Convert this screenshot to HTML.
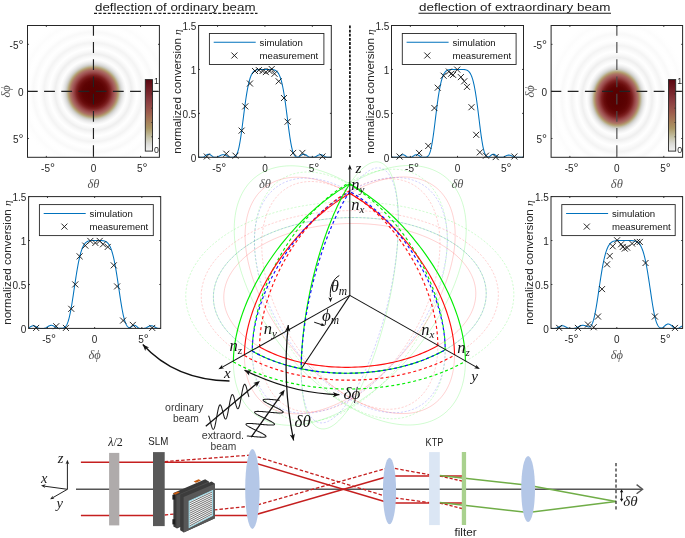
<!DOCTYPE html>
<html><head><meta charset="utf-8"><style>
html,body{margin:0;padding:0;background:#fff;width:685px;height:538px;overflow:hidden}
svg{display:block;will-change:transform}
</style></head><body>
<svg width="685" height="538" viewBox="0 0 685 538">
<defs><radialGradient id="rg1" gradientUnits="userSpaceOnUse" cx="0" cy="0" r="100.0" gradientTransform="translate(93.35,92.2) scale(1.02,1.02)"><stop offset="0.0000" stop-color="#560000"/><stop offset="0.0700" stop-color="#580101"/><stop offset="0.1100" stop-color="#5d0303"/><stop offset="0.1400" stop-color="#690c0c"/><stop offset="0.1650" stop-color="#7c2020"/><stop offset="0.1900" stop-color="#964444"/><stop offset="0.2100" stop-color="#a55e5c"/><stop offset="0.2260" stop-color="#ac7664"/><stop offset="0.2380" stop-color="#b2926a"/><stop offset="0.2480" stop-color="#b8aa80"/><stop offset="0.2600" stop-color="#c6c2b2"/><stop offset="0.2730" stop-color="#d6d6d4"/><stop offset="0.2860" stop-color="#e4e4e4"/><stop offset="0.3050" stop-color="#f4f4f4"/><stop offset="0.3250" stop-color="#fefefe"/><stop offset="0.3500" stop-color="#f8f8f8"/><stop offset="0.3750" stop-color="#efefef"/><stop offset="0.4050" stop-color="#f9f9f9"/><stop offset="0.4300" stop-color="#ffffff"/><stop offset="0.4600" stop-color="#f9f9f9"/><stop offset="0.4850" stop-color="#f4f4f4"/><stop offset="0.5150" stop-color="#fcfcfc"/><stop offset="0.5400" stop-color="#ffffff"/><stop offset="0.5650" stop-color="#fcfcfc"/><stop offset="0.5900" stop-color="#f9f9f9"/><stop offset="0.6200" stop-color="#fefefe"/><stop offset="0.6450" stop-color="#ffffff"/><stop offset="0.6700" stop-color="#fefefe"/><stop offset="0.6950" stop-color="#fcfcfc"/><stop offset="0.7250" stop-color="#fefefe"/><stop offset="0.7600" stop-color="#ffffff"/><stop offset="1.0000" stop-color="#ffffff"/></radialGradient><linearGradient id="cb1" x1="0" y1="0" x2="0" y2="1"><stop offset="0" stop-color="#5a0610"/><stop offset="0.12" stop-color="#6e1a22"/><stop offset="0.3" stop-color="#8a3c40"/><stop offset="0.45" stop-color="#9c5a4c"/><stop offset="0.58" stop-color="#a67c58"/><stop offset="0.68" stop-color="#aa9664"/><stop offset="0.8" stop-color="#c4c0a4"/><stop offset="0.9" stop-color="#dcdcd8"/><stop offset="1" stop-color="#f2f2f2"/></linearGradient><radialGradient id="rg4" gradientUnits="userSpaceOnUse" cx="0" cy="0" r="100.0" gradientTransform="translate(617,98.7) scale(0.935,1.1)"><stop offset="0.0000" stop-color="#560000"/><stop offset="0.0700" stop-color="#580101"/><stop offset="0.1100" stop-color="#5d0303"/><stop offset="0.1400" stop-color="#690c0c"/><stop offset="0.1650" stop-color="#7c2020"/><stop offset="0.1900" stop-color="#964444"/><stop offset="0.2100" stop-color="#a55e5c"/><stop offset="0.2260" stop-color="#ac7664"/><stop offset="0.2380" stop-color="#b2926a"/><stop offset="0.2480" stop-color="#b8aa80"/><stop offset="0.2600" stop-color="#c6c2b2"/><stop offset="0.2730" stop-color="#d6d6d4"/><stop offset="0.2860" stop-color="#e4e4e4"/><stop offset="0.3050" stop-color="#f4f4f4"/><stop offset="0.3250" stop-color="#fefefe"/><stop offset="0.3500" stop-color="#f8f8f8"/><stop offset="0.3750" stop-color="#efefef"/><stop offset="0.4050" stop-color="#f9f9f9"/><stop offset="0.4300" stop-color="#ffffff"/><stop offset="0.4600" stop-color="#f9f9f9"/><stop offset="0.4850" stop-color="#f4f4f4"/><stop offset="0.5150" stop-color="#fcfcfc"/><stop offset="0.5400" stop-color="#ffffff"/><stop offset="0.5650" stop-color="#fcfcfc"/><stop offset="0.5900" stop-color="#f9f9f9"/><stop offset="0.6200" stop-color="#fefefe"/><stop offset="0.6450" stop-color="#ffffff"/><stop offset="0.6700" stop-color="#fefefe"/><stop offset="0.6950" stop-color="#fcfcfc"/><stop offset="0.7250" stop-color="#fefefe"/><stop offset="0.7600" stop-color="#ffffff"/><stop offset="1.0000" stop-color="#ffffff"/></radialGradient><linearGradient id="cb4" x1="0" y1="0" x2="0" y2="1"><stop offset="0" stop-color="#5a0610"/><stop offset="0.12" stop-color="#6e1a22"/><stop offset="0.3" stop-color="#8a3c40"/><stop offset="0.45" stop-color="#9c5a4c"/><stop offset="0.58" stop-color="#a67c58"/><stop offset="0.68" stop-color="#aa9664"/><stop offset="0.8" stop-color="#c4c0a4"/><stop offset="0.9" stop-color="#dcdcd8"/><stop offset="1" stop-color="#f2f2f2"/></linearGradient><clipPath id="cp2"><rect x="198.6" y="24.5" width="132.7" height="133.3"/></clipPath><clipPath id="cp3"><rect x="391.5" y="24.5" width="132" height="133.3"/></clipPath><clipPath id="cp5"><rect x="28.6" y="195.6" width="132.1" height="133.3"/></clipPath><clipPath id="cp6"><rect x="551" y="195.6" width="131.6" height="133.3"/></clipPath></defs>
<rect width="685" height="538" fill="#fff"/>
<text x="95" y="10.5" text-anchor="start" fill="#1a1a1a" style='font-family:"Liberation Sans",sans-serif;font-size:11.8px' textLength="160.5" lengthAdjust="spacingAndGlyphs">deflection of ordinary beam</text>
<line x1="94" y1="13.4" x2="257.5" y2="13.4" stroke="#1a1a1a" stroke-width="1.25" stroke-dasharray="3 1.6"/>
<text x="419" y="10.5" text-anchor="start" fill="#1a1a1a" style='font-family:"Liberation Sans",sans-serif;font-size:11.8px' textLength="191.5" lengthAdjust="spacingAndGlyphs">deflection of extraordinary beam</text>
<line x1="418.5" y1="13.2" x2="611" y2="13.2" stroke="#1a1a1a" stroke-width="1.15"/>
<line x1="349.9" y1="25.5" x2="349.9" y2="157" stroke="#1a1a1a" stroke-width="1.8" stroke-dasharray="2.8 1.35"/>
<rect x="27.5" y="25.5" width="131.9" height="131.8" fill="url(#rg1)"/>
<line x1="27.5" y1="91.4" x2="159.4" y2="91.4" stroke="#222" stroke-width="1.15" stroke-dasharray="10.8 6.4" stroke-dashoffset="0.6"/>
<line x1="93.45" y1="25.5" x2="93.45" y2="157.3" stroke="#222" stroke-width="1.15" stroke-dasharray="10.8 6.4" stroke-dashoffset="0.6"/>
<rect x="145.3" y="79.6" width="7.2" height="71.5" fill="url(#cb1)" stroke="#262626" stroke-width="0.9"/>
<line x1="151.3" y1="136.8" x2="152.5" y2="136.8" stroke="#262626" stroke-width="0.8"/>
<line x1="151.3" y1="122.5" x2="152.5" y2="122.5" stroke="#262626" stroke-width="0.8"/>
<line x1="151.3" y1="108.2" x2="152.5" y2="108.2" stroke="#262626" stroke-width="0.8"/>
<line x1="151.3" y1="93.9" x2="152.5" y2="93.9" stroke="#262626" stroke-width="0.8"/>
<text x="154.1" y="83.9" text-anchor="start" fill="#262626" style='font-family:"Liberation Sans",sans-serif;font-size:8.8px' >1</text>
<text x="154.1" y="153.1" text-anchor="start" fill="#262626" style='font-family:"Liberation Sans",sans-serif;font-size:8.8px' >0</text>
<rect x="27.5" y="25.5" width="131.9" height="131.8" fill="none" stroke="#262626" stroke-width="1"/>
<line x1="46.34" y1="157.3" x2="46.34" y2="155.9" stroke="#262626" stroke-width="0.9"/>
<line x1="46.34" y1="25.5" x2="46.34" y2="26.9" stroke="#262626" stroke-width="0.9"/>
<line x1="27.5" y1="44.33" x2="28.9" y2="44.33" stroke="#262626" stroke-width="0.9"/>
<line x1="159.4" y1="44.33" x2="158" y2="44.33" stroke="#262626" stroke-width="0.9"/>
<text x="48.04" y="171.6" text-anchor="middle" fill="#262626" style='font-family:"Liberation Sans",sans-serif;font-size:10px' >-5<tspan style="font-size:12.5px">°</tspan></text>
<text x="23.5" y="48.53" text-anchor="end" fill="#262626" style='font-family:"Liberation Sans",sans-serif;font-size:10px' >-5<tspan style="font-size:12.5px">°</tspan></text>
<line x1="93.45" y1="157.3" x2="93.45" y2="155.9" stroke="#262626" stroke-width="0.9"/>
<line x1="93.45" y1="25.5" x2="93.45" y2="26.9" stroke="#262626" stroke-width="0.9"/>
<line x1="27.5" y1="91.4" x2="28.9" y2="91.4" stroke="#262626" stroke-width="0.9"/>
<line x1="159.4" y1="91.4" x2="158" y2="91.4" stroke="#262626" stroke-width="0.9"/>
<text x="93.45" y="171.6" text-anchor="middle" fill="#262626" style='font-family:"Liberation Sans",sans-serif;font-size:10px' >0</text>
<text x="23.5" y="95.6" text-anchor="end" fill="#262626" style='font-family:"Liberation Sans",sans-serif;font-size:10px' >0</text>
<line x1="140.56" y1="157.3" x2="140.56" y2="155.9" stroke="#262626" stroke-width="0.9"/>
<line x1="140.56" y1="25.5" x2="140.56" y2="26.9" stroke="#262626" stroke-width="0.9"/>
<line x1="27.5" y1="138.47" x2="28.9" y2="138.47" stroke="#262626" stroke-width="0.9"/>
<line x1="159.4" y1="138.47" x2="158" y2="138.47" stroke="#262626" stroke-width="0.9"/>
<text x="142.26" y="171.6" text-anchor="middle" fill="#262626" style='font-family:"Liberation Sans",sans-serif;font-size:10px' >5<tspan style="font-size:12.5px">°</tspan></text>
<text x="23.5" y="142.67" text-anchor="end" fill="#262626" style='font-family:"Liberation Sans",sans-serif;font-size:10px' >5<tspan style="font-size:12.5px">°</tspan></text>
<text x="93.45" y="187.9" text-anchor="middle" fill="#555" style='font-family:"Liberation Serif",serif;font-size:12.5px;font-style:italic' >δθ</text>
<text x="0" y="0" transform="translate(10,91.4) rotate(-90)" text-anchor="middle" fill="#555" style='font-family:"Liberation Serif",serif;font-size:12.5px;font-style:italic'>δϕ</text>
<rect x="551.1" y="25.5" width="131.5" height="131.8" fill="url(#rg4)"/>
<line x1="551.1" y1="91.4" x2="682.6" y2="91.4" stroke="#222" stroke-width="1.15" stroke-dasharray="10.8 6.4" stroke-dashoffset="0.6"/>
<line x1="616.85" y1="25.5" x2="616.85" y2="157.3" stroke="#4a4a4a" stroke-width="1.15" stroke-dasharray="10.8 6.4" stroke-dashoffset="0.6"/>
<rect x="668.5" y="79.6" width="7.2" height="71.5" fill="url(#cb4)" stroke="#262626" stroke-width="0.9"/>
<line x1="674.5" y1="136.8" x2="675.7" y2="136.8" stroke="#262626" stroke-width="0.8"/>
<line x1="674.5" y1="122.5" x2="675.7" y2="122.5" stroke="#262626" stroke-width="0.8"/>
<line x1="674.5" y1="108.2" x2="675.7" y2="108.2" stroke="#262626" stroke-width="0.8"/>
<line x1="674.5" y1="93.9" x2="675.7" y2="93.9" stroke="#262626" stroke-width="0.8"/>
<text x="677.3" y="83.9" text-anchor="start" fill="#262626" style='font-family:"Liberation Sans",sans-serif;font-size:8.8px' >1</text>
<text x="677.3" y="153.1" text-anchor="start" fill="#262626" style='font-family:"Liberation Sans",sans-serif;font-size:8.8px' >0</text>
<rect x="551.1" y="25.5" width="131.5" height="131.8" fill="none" stroke="#262626" stroke-width="1"/>
<line x1="569.89" y1="157.3" x2="569.89" y2="155.9" stroke="#262626" stroke-width="0.9"/>
<line x1="569.89" y1="25.5" x2="569.89" y2="26.9" stroke="#262626" stroke-width="0.9"/>
<line x1="551.1" y1="44.33" x2="552.5" y2="44.33" stroke="#262626" stroke-width="0.9"/>
<line x1="682.6" y1="44.33" x2="681.2" y2="44.33" stroke="#262626" stroke-width="0.9"/>
<text x="571.59" y="171.6" text-anchor="middle" fill="#262626" style='font-family:"Liberation Sans",sans-serif;font-size:10px' >-5<tspan style="font-size:12.5px">°</tspan></text>
<text x="547.1" y="48.53" text-anchor="end" fill="#262626" style='font-family:"Liberation Sans",sans-serif;font-size:10px' >-5<tspan style="font-size:12.5px">°</tspan></text>
<line x1="616.85" y1="157.3" x2="616.85" y2="155.9" stroke="#262626" stroke-width="0.9"/>
<line x1="616.85" y1="25.5" x2="616.85" y2="26.9" stroke="#262626" stroke-width="0.9"/>
<line x1="551.1" y1="91.4" x2="552.5" y2="91.4" stroke="#262626" stroke-width="0.9"/>
<line x1="682.6" y1="91.4" x2="681.2" y2="91.4" stroke="#262626" stroke-width="0.9"/>
<text x="616.85" y="171.6" text-anchor="middle" fill="#262626" style='font-family:"Liberation Sans",sans-serif;font-size:10px' >0</text>
<text x="547.1" y="95.6" text-anchor="end" fill="#262626" style='font-family:"Liberation Sans",sans-serif;font-size:10px' >0</text>
<line x1="663.81" y1="157.3" x2="663.81" y2="155.9" stroke="#262626" stroke-width="0.9"/>
<line x1="663.81" y1="25.5" x2="663.81" y2="26.9" stroke="#262626" stroke-width="0.9"/>
<line x1="551.1" y1="138.47" x2="552.5" y2="138.47" stroke="#262626" stroke-width="0.9"/>
<line x1="682.6" y1="138.47" x2="681.2" y2="138.47" stroke="#262626" stroke-width="0.9"/>
<text x="665.51" y="171.6" text-anchor="middle" fill="#262626" style='font-family:"Liberation Sans",sans-serif;font-size:10px' >5<tspan style="font-size:12.5px">°</tspan></text>
<text x="547.1" y="142.67" text-anchor="end" fill="#262626" style='font-family:"Liberation Sans",sans-serif;font-size:10px' >5<tspan style="font-size:12.5px">°</tspan></text>
<text x="616.85" y="187.9" text-anchor="middle" fill="#555" style='font-family:"Liberation Serif",serif;font-size:12.5px;font-style:italic' >δθ</text>
<text x="0" y="0" transform="translate(533.6,91.4) rotate(-90)" text-anchor="middle" fill="#555" style='font-family:"Liberation Serif",serif;font-size:12.5px;font-style:italic'>δϕ</text>
<path d="M198.6,157.3L198.93,157.3 199.26,157.3 199.6,157.3 199.93,157.3 200.26,157.3 200.59,157.3 200.92,157.3 201.25,157.3 201.59,157.3 201.92,157.3 202.25,157.3 202.58,157.29 202.91,157.25 203.24,157.16 203.58,157.03 203.91,156.86 204.24,156.67 204.57,156.44 204.9,156.2 205.23,155.95 205.57,155.69 205.9,155.43 206.23,155.18 206.56,154.95 206.89,154.74 207.23,154.56 207.56,154.42 207.89,154.31 208.22,154.25 208.55,154.22 208.88,154.25 209.22,154.31 209.55,154.42 209.88,154.56 210.21,154.74 210.54,154.95 210.87,155.18 211.21,155.43 211.54,155.69 211.87,155.95 212.2,156.2 212.53,156.44 212.87,156.67 213.2,156.86 213.53,157.03 213.86,157.16 214.19,157.25 214.52,157.29 214.86,157.3 215.19,157.3 215.52,157.3 215.85,157.3 216.18,157.27 216.51,157.22 216.85,157.14 217.18,157.05 217.51,156.93 217.84,156.8 218.17,156.65 218.5,156.49 218.84,156.31 219.17,156.14 219.5,155.96 219.83,155.78 220.16,155.6 220.5,155.43 220.83,155.27 221.16,155.13 221.49,155 221.82,154.89 222.15,154.8 222.49,154.73 222.82,154.68 223.15,154.67 223.48,154.67 223.81,154.7 224.14,154.75 224.48,154.83 224.81,154.93 225.14,155.05 225.47,155.19 225.8,155.34 226.14,155.5 226.47,155.67 226.8,155.85 227.13,156.03 227.46,156.21 227.79,156.39 228.13,156.56 228.46,156.71 228.79,156.86 229.12,156.98 229.45,157.09 229.78,157.18 230.12,157.24 230.45,157.28 230.78,157.29 231.11,157.29 231.44,157.28 231.77,157.28 232.11,157.26 232.44,157.24 232.77,157.21 233.1,157.17 233.43,157.12 233.77,157.05 234.1,156.95 234.43,156.81 234.76,156.65 235.09,156.43 235.42,156.16 235.76,155.82 236.09,155.41 236.42,154.91 236.75,154.32 237.08,153.62 237.41,152.81 237.75,151.87 238.08,150.8 238.41,149.6 238.74,148.26 239.07,146.78 239.41,145.16 239.74,143.4 240.07,141.51 240.4,139.49 240.73,137.35 241.06,135.1 241.4,132.76 241.73,130.33 242.06,127.84 242.39,125.29 242.72,122.7 243.05,120.09 243.39,117.47 243.72,114.85 244.05,112.26 244.38,109.7 244.71,107.18 245.04,104.72 245.38,102.32 245.71,100.01 246.04,97.77 246.37,95.62 246.7,93.57 247.04,91.61 247.37,89.76 247.7,88 248.03,86.35 248.36,84.8 248.69,83.35 249.03,82 249.36,80.75 249.69,79.59 250.02,78.52 250.35,77.54 250.68,76.64 251.02,75.82 251.35,75.07 251.68,74.39 252.01,73.78 252.34,73.23 252.68,72.74 253.01,72.29 253.34,71.9 253.67,71.55 254,71.24 254.33,70.97 254.67,70.74 255,70.53 255.33,70.35 255.66,70.2 255.99,70.06 256.32,69.95 256.66,69.85 256.99,69.77 257.32,69.71 257.65,69.65 257.98,69.6 258.31,69.56 258.65,69.53 258.98,69.51 259.31,69.49 259.64,69.47 259.97,69.46 260.31,69.45 260.64,69.45 260.97,69.44 261.3,69.44 261.63,69.44 261.96,69.44 262.3,69.43 262.63,69.43 262.96,69.43 263.29,69.43 263.62,69.43 263.95,69.43 264.29,69.43 264.62,69.43 264.95,69.43 265.28,69.43 265.61,69.43 265.95,69.43 266.28,69.43 266.61,69.43 266.94,69.43 267.27,69.43 267.6,69.43 267.94,69.43 268.27,69.43 268.6,69.44 268.93,69.44 269.26,69.44 269.59,69.44 269.93,69.45 270.26,69.45 270.59,69.46 270.92,69.47 271.25,69.49 271.58,69.5 271.92,69.53 272.25,69.55 272.58,69.59 272.91,69.63 273.24,69.69 273.58,69.75 273.91,69.83 274.24,69.92 274.57,70.03 274.9,70.16 275.23,70.3 275.57,70.48 275.9,70.67 276.23,70.9 276.56,71.16 276.89,71.46 277.22,71.8 277.56,72.18 277.89,72.6 278.22,73.08 278.55,73.62 278.88,74.21 279.22,74.87 279.55,75.6 279.88,76.4 280.21,77.27 280.54,78.23 280.87,79.28 281.21,80.41 281.54,81.64 281.87,82.96 282.2,84.38 282.53,85.9 282.86,87.52 283.2,89.25 283.53,91.07 283.86,93 284.19,95.03 284.52,97.15 284.85,99.36 285.19,101.65 285.52,104.03 285.85,106.47 286.18,108.97 286.51,111.52 286.85,114.11 287.18,116.72 287.51,119.34 287.84,121.96 288.17,124.55 288.5,127.11 288.84,129.63 289.17,132.07 289.5,134.44 289.83,136.72 290.16,138.89 290.49,140.94 290.83,142.87 291.16,144.67 291.49,146.33 291.82,147.85 292.15,149.23 292.49,150.47 292.82,151.58 293.15,152.55 293.48,153.4 293.81,154.13 294.14,154.75 294.48,155.28 294.81,155.71 295.14,156.07 295.47,156.36 295.8,156.59 296.13,156.77 296.47,156.91 296.8,157.02 297.13,157.1 297.46,157.15 297.79,157.14 298.12,157.08 298.46,156.98 298.79,156.85 299.12,156.68 299.45,156.48 299.78,156.26 300.12,156.03 300.45,155.79 300.78,155.55 301.11,155.32 301.44,155.09 301.77,154.89 302.11,154.7 302.44,154.54 302.77,154.41 303.1,154.31 303.43,154.25 303.76,154.23 304.1,154.24 304.43,154.29 304.76,154.38 305.09,154.5 305.42,154.65 305.76,154.83 306.09,155.03 306.42,155.25 306.75,155.49 307.08,155.73 307.41,155.97 307.75,156.2 308.08,156.43 308.41,156.64 308.74,156.82 309.07,156.99 309.4,157.12 309.74,157.21 310.07,157.28 310.4,157.3 310.73,157.3 311.06,157.3 311.39,157.3 311.73,157.3 312.06,157.3 312.39,157.3 312.72,157.3 313.05,157.3 313.39,157.3 313.72,157.28 314.05,157.23 314.38,157.15 314.71,157.05 315.04,156.92 315.38,156.78 315.71,156.62 316.04,156.44 316.37,156.26 316.7,156.06 317.03,155.87 317.37,155.68 317.7,155.5 318.03,155.32 318.36,155.16 318.69,155.02 319.03,154.9 319.36,154.8 319.69,154.73 320.02,154.68 320.35,154.66 320.68,154.67 321.02,154.71 321.35,154.78 321.68,154.87 322.01,154.98 322.34,155.12 322.67,155.28 323.01,155.45 323.34,155.63 323.67,155.82 324,156.01 324.33,156.2 324.67,156.39 325,156.57 325.33,156.73 325.66,156.88 325.99,157.01 326.32,157.12 326.66,157.21 326.99,157.27 327.32,157.3 327.65,157.3 327.98,157.3 328.31,157.3 328.65,157.3 328.98,157.3 329.31,157.3 329.64,157.3 329.97,157.3 330.3,157.3 330.64,157.3 330.97,157.3 331.3,157.3" fill="none" stroke="#0072bd" stroke-width="1.05" clip-path="url(#cp2)"/>
<path d="M203.79,153.53L209.79,159.53M203.79,159.53L209.79,153.53" stroke="#111" stroke-width="0.9" fill="none"/>
<path d="M223.3,150.74L229.3,156.74M223.3,156.74L229.3,150.74" stroke="#111" stroke-width="0.9" fill="none"/>
<path d="M232.49,152.69L238.49,158.69M232.49,158.69L238.49,152.69" stroke="#111" stroke-width="0.9" fill="none"/>
<path d="M238.62,127.62L244.62,133.62M238.62,133.62L244.62,127.62" stroke="#111" stroke-width="0.9" fill="none"/>
<path d="M242.25,103.38L248.25,109.38M242.25,109.38L248.25,103.38" stroke="#111" stroke-width="0.9" fill="none"/>
<path d="M246.98,80.53L252.98,86.53M246.98,86.53L252.98,80.53" stroke="#111" stroke-width="0.9" fill="none"/>
<path d="M252,67.99L258,73.99M252,73.99L258,67.99" stroke="#111" stroke-width="0.9" fill="none"/>
<path d="M255.9,67.15L261.9,73.15M255.9,73.15L261.9,67.15" stroke="#111" stroke-width="0.9" fill="none"/>
<path d="M259.52,67.99L265.52,73.99M259.52,73.99L265.52,67.99" stroke="#111" stroke-width="0.9" fill="none"/>
<path d="M262.86,69.1L268.86,75.1M262.86,75.1L268.86,69.1" stroke="#111" stroke-width="0.9" fill="none"/>
<path d="M266.49,67.99L272.49,73.99M266.49,73.99L272.49,67.99" stroke="#111" stroke-width="0.9" fill="none"/>
<path d="M268.71,66.04L274.71,72.04M268.71,72.04L274.71,66.04" stroke="#111" stroke-width="0.9" fill="none"/>
<path d="M271.5,70.78L277.5,76.78M271.5,76.78L277.5,70.78" stroke="#111" stroke-width="0.9" fill="none"/>
<path d="M275.68,78.3L281.68,84.3M275.68,84.3L281.68,78.3" stroke="#111" stroke-width="0.9" fill="none"/>
<path d="M280.97,95.02L286.97,101.02M280.97,101.02L286.97,95.02" stroke="#111" stroke-width="0.9" fill="none"/>
<path d="M284.6,118.7L290.6,124.7M284.6,124.7L290.6,118.7" stroke="#111" stroke-width="0.9" fill="none"/>
<path d="M290.17,149.91L296.17,155.91M290.17,155.91L296.17,149.91" stroke="#111" stroke-width="0.9" fill="none"/>
<path d="M299.36,149.91L305.36,155.91M299.36,155.91L305.36,149.91" stroke="#111" stroke-width="0.9" fill="none"/>
<path d="M319.43,153.53L325.43,159.53M319.43,159.53L325.43,153.53" stroke="#111" stroke-width="0.9" fill="none"/>
<rect x="198.6" y="25.5" width="132.7" height="131.8" fill="none" stroke="#262626" stroke-width="1"/>
<line x1="217.56" y1="157.3" x2="217.56" y2="155.9" stroke="#262626" stroke-width="0.9"/>
<line x1="217.56" y1="25.5" x2="217.56" y2="26.9" stroke="#262626" stroke-width="0.9"/>
<text x="219.26" y="171.6" text-anchor="middle" fill="#262626" style='font-family:"Liberation Sans",sans-serif;font-size:10px' >-5<tspan style="font-size:12.5px">°</tspan></text>
<line x1="264.95" y1="157.3" x2="264.95" y2="155.9" stroke="#262626" stroke-width="0.9"/>
<line x1="264.95" y1="25.5" x2="264.95" y2="26.9" stroke="#262626" stroke-width="0.9"/>
<text x="264.95" y="171.6" text-anchor="middle" fill="#262626" style='font-family:"Liberation Sans",sans-serif;font-size:10px' >0</text>
<line x1="312.34" y1="157.3" x2="312.34" y2="155.9" stroke="#262626" stroke-width="0.9"/>
<line x1="312.34" y1="25.5" x2="312.34" y2="26.9" stroke="#262626" stroke-width="0.9"/>
<text x="314.04" y="171.6" text-anchor="middle" fill="#262626" style='font-family:"Liberation Sans",sans-serif;font-size:10px' >5<tspan style="font-size:12.5px">°</tspan></text>
<line x1="198.6" y1="157.3" x2="200" y2="157.3" stroke="#262626" stroke-width="0.9"/>
<line x1="331.3" y1="157.3" x2="329.9" y2="157.3" stroke="#262626" stroke-width="0.9"/>
<text x="196.4" y="161.5" text-anchor="end" fill="#262626" style='font-family:"Liberation Sans",sans-serif;font-size:10px' >0</text>
<line x1="198.6" y1="113.37" x2="200" y2="113.37" stroke="#262626" stroke-width="0.9"/>
<line x1="331.3" y1="113.37" x2="329.9" y2="113.37" stroke="#262626" stroke-width="0.9"/>
<text x="196.4" y="117.57" text-anchor="end" fill="#262626" style='font-family:"Liberation Sans",sans-serif;font-size:10px' >0.5</text>
<line x1="198.6" y1="69.43" x2="200" y2="69.43" stroke="#262626" stroke-width="0.9"/>
<line x1="331.3" y1="69.43" x2="329.9" y2="69.43" stroke="#262626" stroke-width="0.9"/>
<text x="196.4" y="73.63" text-anchor="end" fill="#262626" style='font-family:"Liberation Sans",sans-serif;font-size:10px' >1</text>
<line x1="198.6" y1="25.5" x2="200" y2="25.5" stroke="#262626" stroke-width="0.9"/>
<line x1="331.3" y1="25.5" x2="329.9" y2="25.5" stroke="#262626" stroke-width="0.9"/>
<text x="196.4" y="29.7" text-anchor="end" fill="#262626" style='font-family:"Liberation Sans",sans-serif;font-size:10px' >1.5</text>
<rect x="209.4" y="33.5" width="114.5" height="31" fill="#fff" stroke="#262626" stroke-width="0.9"/>
<line x1="213.7" y1="42.3" x2="255.7" y2="42.3" stroke="#0072bd" stroke-width="1.05"/>
<path d="M231.4,52.5L237.4,58.5M231.4,58.5L237.4,52.5" stroke="#111" stroke-width="0.9" fill="none"/>
<text x="259.6" y="45.8" text-anchor="start" fill="#111" style='font-family:"Liberation Sans",sans-serif;font-size:9.6px' >simulation</text>
<text x="259.6" y="59.1" text-anchor="start" fill="#111" style='font-family:"Liberation Sans",sans-serif;font-size:9.6px' >measurement</text>
<text x="264.95" y="187.9" text-anchor="middle" fill="#555" style='font-family:"Liberation Serif",serif;font-size:12.5px;font-style:italic' >δθ</text>
<text x="0" y="0" transform="translate(181,91.4) rotate(-90)" text-anchor="middle" fill="#262626" textLength="124.5" lengthAdjust="spacingAndGlyphs" style='font-family:"Liberation Sans",sans-serif;font-size:11px'>normalized conversion <tspan style='font-family:"Liberation Serif",serif;font-style:italic'>η</tspan></text>
<path d="M391.5,157.3L391.83,157.3 392.16,157.3 392.49,157.3 392.82,157.3 393.15,157.3 393.48,157.3 393.81,157.3 394.14,157.3 394.47,157.3 394.8,157.3 395.13,157.3 395.46,157.3 395.79,157.3 396.12,157.3 396.45,157.3 396.78,157.3 397.11,157.3 397.44,157.28 397.77,157.22 398.1,157.12 398.43,156.98 398.76,156.81 399.09,156.61 399.42,156.39 399.75,156.15 400.08,155.91 400.41,155.67 400.74,155.45 401.07,155.24 401.4,155.05 401.73,154.9 402.06,154.78 402.39,154.7 402.72,154.67 403.05,154.68 403.38,154.73 403.71,154.82 404.04,154.96 404.37,155.13 404.7,155.32 405.03,155.54 405.36,155.78 405.69,156.02 406.02,156.26 406.35,156.49 406.68,156.7 407.01,156.89 407.34,157.05 407.67,157.17 408,157.26 408.33,157.3 408.66,157.3 408.99,157.3 409.32,157.3 409.65,157.3 409.98,157.3 410.31,157.3 410.64,157.29 410.97,157.24 411.3,157.15 411.63,157.03 411.96,156.88 412.29,156.7 412.62,156.51 412.95,156.3 413.28,156.08 413.61,155.85 413.94,155.64 414.27,155.43 414.6,155.23 414.93,155.06 415.26,154.92 415.59,154.8 415.92,154.72 416.25,154.67 416.58,154.67 416.91,154.7 417.24,154.76 417.57,154.86 417.9,155 418.23,155.16 418.56,155.34 418.89,155.54 419.22,155.76 419.55,155.98 419.88,156.2 420.21,156.42 420.54,156.62 420.87,156.81 421.2,156.97 421.53,157.1 421.86,157.2 422.19,157.27 422.52,157.3 422.85,157.3 423.18,157.3 423.51,157.29 423.84,157.29 424.17,157.28 424.5,157.27 424.83,157.26 425.16,157.23 425.49,157.2 425.82,157.15 426.15,157.09 426.48,157 426.81,156.88 427.14,156.72 427.47,156.52 427.8,156.26 428.13,155.93 428.46,155.53 428.79,155.04 429.12,154.45 429.45,153.75 429.78,152.93 430.11,151.98 430.44,150.89 430.77,149.66 431.1,148.28 431.43,146.76 431.76,145.08 432.09,143.26 432.42,141.29 432.75,139.2 433.08,136.98 433.41,134.65 433.74,132.22 434.07,129.7 434.4,127.12 434.73,124.48 435.06,121.81 435.39,119.12 435.72,116.43 436.05,113.75 436.38,111.1 436.71,108.48 437.04,105.93 437.37,103.44 437.7,101.02 438.03,98.69 438.36,96.45 438.69,94.31 439.02,92.27 439.35,90.34 439.68,88.51 440.01,86.79 440.34,85.18 440.67,83.67 441,82.27 441.33,80.97 441.66,79.77 441.99,78.66 442.32,77.65 442.65,76.72 442.98,75.88 443.31,75.11 443.64,74.42 443.97,73.79 444.3,73.23 444.63,72.73 444.96,72.28 445.29,71.88 445.62,71.53 445.95,71.22 446.28,70.95 446.61,70.71 446.94,70.51 447.27,70.33 447.6,70.17 447.93,70.04 448.26,69.93 448.59,69.84 448.92,69.76 449.25,69.69 449.58,69.64 449.91,69.59 450.24,69.56 450.57,69.53 450.9,69.5 451.23,69.49 451.56,69.47 451.89,69.46 452.22,69.45 452.55,69.45 452.88,69.44 453.21,69.44 453.54,69.44 453.87,69.44 454.2,69.43 454.53,69.43 454.86,69.43 455.19,69.43 455.52,69.43 455.85,69.43 456.18,69.43 456.51,69.43 456.84,69.43 457.17,69.43 457.5,69.43 457.83,69.43 458.16,69.43 458.49,69.43 458.82,69.43 459.15,69.43 459.48,69.43 459.81,69.43 460.14,69.43 460.47,69.44 460.8,69.44 461.13,69.44 461.46,69.44 461.79,69.44 462.12,69.45 462.45,69.46 462.78,69.47 463.11,69.48 463.44,69.5 463.77,69.52 464.1,69.55 464.43,69.58 464.76,69.62 465.09,69.68 465.42,69.74 465.75,69.81 466.08,69.9 466.41,70.01 466.74,70.13 467.07,70.28 467.4,70.45 467.73,70.65 468.06,70.88 468.39,71.14 468.72,71.44 469.05,71.78 469.38,72.16 469.71,72.59 470.04,73.08 470.37,73.62 470.7,74.23 471.03,74.9 471.36,75.65 471.69,76.47 472.02,77.37 472.35,78.36 472.68,79.44 473.01,80.62 473.34,81.89 473.67,83.26 474,84.73 474.33,86.32 474.66,88.01 474.99,89.8 475.32,91.71 475.65,93.72 475.98,95.83 476.31,98.04 476.64,100.35 476.97,102.74 477.3,105.21 477.63,107.75 477.96,110.34 478.29,112.99 478.62,115.66 478.95,118.35 479.28,121.04 479.61,123.72 479.94,126.37 480.27,128.97 480.6,131.51 480.93,133.96 481.26,136.32 481.59,138.58 481.92,140.71 482.25,142.71 482.58,144.57 482.91,146.29 483.24,147.86 483.57,149.28 483.9,150.56 484.23,151.68 484.56,152.67 484.89,153.53 485.22,154.26 485.55,154.88 485.88,155.4 486.21,155.82 486.54,156.17 486.87,156.45 487.2,156.67 487.53,156.84 487.86,156.96 488.19,157 488.52,156.97 488.85,156.87 489.18,156.72 489.51,156.52 489.84,156.28 490.17,156.02 490.5,155.75 490.83,155.47 491.16,155.21 491.49,154.96 491.82,154.73 492.15,154.54 492.48,154.39 492.81,154.29 493.14,154.23 493.47,154.23 493.8,154.28 494.13,154.37 494.46,154.52 494.79,154.7 495.12,154.92 495.45,155.17 495.78,155.44 496.11,155.72 496.44,156 496.77,156.28 497.1,156.53 497.43,156.76 497.76,156.96 498.09,157.11 498.42,157.22 498.75,157.29 499.08,157.3 499.41,157.3 499.74,157.3 500.07,157.3 500.4,157.3 500.73,157.3 501.06,157.3 501.39,157.3 501.72,157.3 502.05,157.29 502.38,157.27 502.71,157.21 503.04,157.14 503.37,157.05 503.7,156.94 504.03,156.81 504.36,156.67 504.69,156.52 505.02,156.36 505.35,156.2 505.68,156.04 506.01,155.88 506.34,155.73 506.67,155.59 507,155.47 507.33,155.36 507.66,155.26 507.99,155.19 508.32,155.14 508.65,155.11 508.98,155.1 509.31,155.12 509.64,155.16 509.97,155.23 510.3,155.31 510.63,155.42 510.96,155.54 511.29,155.67 511.62,155.82 511.95,155.97 512.28,156.13 512.61,156.29 512.94,156.45 513.27,156.61 513.6,156.75 513.93,156.88 514.26,157 514.59,157.1 514.92,157.19 515.25,157.25 515.58,157.28 515.91,157.3 516.24,157.3 516.57,157.3 516.9,157.3 517.23,157.3 517.56,157.3 517.89,157.3 518.22,157.3 518.55,157.3 518.88,157.3 519.21,157.3 519.54,157.3 519.87,157.3 520.2,157.3 520.53,157.3 520.86,157.3 521.19,157.3 521.52,157.3 521.85,157.3 522.18,157.3 522.51,157.3 522.84,157.3 523.17,157.3 523.5,157.3" fill="none" stroke="#0072bd" stroke-width="1.05" clip-path="url(#cp3)"/>
<path d="M396.58,153.53L402.58,159.53M396.58,159.53L402.58,153.53" stroke="#111" stroke-width="0.9" fill="none"/>
<path d="M416.08,149.91L422.08,155.91M416.08,155.91L422.08,149.91" stroke="#111" stroke-width="0.9" fill="none"/>
<path d="M425.28,142.94L431.28,148.94M425.28,148.94L431.28,142.94" stroke="#111" stroke-width="0.9" fill="none"/>
<path d="M431.41,105.05L437.41,111.05M431.41,111.05L437.41,105.05" stroke="#111" stroke-width="0.9" fill="none"/>
<path d="M434.75,84.71L440.75,90.71M434.75,90.71L440.75,84.71" stroke="#111" stroke-width="0.9" fill="none"/>
<path d="M440.6,72.73L446.6,78.73M440.6,78.73L446.6,72.73" stroke="#111" stroke-width="0.9" fill="none"/>
<path d="M445.9,68.55L451.9,74.55M445.9,74.55L451.9,68.55" stroke="#111" stroke-width="0.9" fill="none"/>
<path d="M448.13,70.78L454.13,76.78M448.13,76.78L454.13,70.78" stroke="#111" stroke-width="0.9" fill="none"/>
<path d="M450.08,71.89L456.08,77.89M450.08,77.89L456.08,71.89" stroke="#111" stroke-width="0.9" fill="none"/>
<path d="M454.26,66.6L460.26,72.6M454.26,72.6L460.26,66.6" stroke="#111" stroke-width="0.9" fill="none"/>
<path d="M457.88,74.12L463.88,80.12M457.88,80.12L463.88,74.12" stroke="#111" stroke-width="0.9" fill="none"/>
<path d="M461.22,78.3L467.22,84.3M461.22,84.3L467.22,78.3" stroke="#111" stroke-width="0.9" fill="none"/>
<path d="M464.01,83.87L470.01,89.87M464.01,89.87L470.01,83.87" stroke="#111" stroke-width="0.9" fill="none"/>
<path d="M468.47,104.21L474.47,110.21M468.47,110.21L474.47,104.21" stroke="#111" stroke-width="0.9" fill="none"/>
<path d="M473.2,131.8L479.2,137.8M473.2,137.8L479.2,131.8" stroke="#111" stroke-width="0.9" fill="none"/>
<path d="M476.83,149.35L482.83,155.35M476.83,155.35L482.83,149.35" stroke="#111" stroke-width="0.9" fill="none"/>
<path d="M482.96,152.69L488.96,158.69M482.96,158.69L488.96,152.69" stroke="#111" stroke-width="0.9" fill="none"/>
<path d="M492.71,154.09L498.71,160.09M492.71,160.09L498.71,154.09" stroke="#111" stroke-width="0.9" fill="none"/>
<path d="M511.38,153.53L517.38,159.53M511.38,159.53L517.38,153.53" stroke="#111" stroke-width="0.9" fill="none"/>
<rect x="391.5" y="25.5" width="132" height="131.8" fill="none" stroke="#262626" stroke-width="1"/>
<line x1="410.36" y1="157.3" x2="410.36" y2="155.9" stroke="#262626" stroke-width="0.9"/>
<line x1="410.36" y1="25.5" x2="410.36" y2="26.9" stroke="#262626" stroke-width="0.9"/>
<text x="412.06" y="171.6" text-anchor="middle" fill="#262626" style='font-family:"Liberation Sans",sans-serif;font-size:10px' >-5<tspan style="font-size:12.5px">°</tspan></text>
<line x1="457.5" y1="157.3" x2="457.5" y2="155.9" stroke="#262626" stroke-width="0.9"/>
<line x1="457.5" y1="25.5" x2="457.5" y2="26.9" stroke="#262626" stroke-width="0.9"/>
<text x="457.5" y="171.6" text-anchor="middle" fill="#262626" style='font-family:"Liberation Sans",sans-serif;font-size:10px' >0</text>
<line x1="504.64" y1="157.3" x2="504.64" y2="155.9" stroke="#262626" stroke-width="0.9"/>
<line x1="504.64" y1="25.5" x2="504.64" y2="26.9" stroke="#262626" stroke-width="0.9"/>
<text x="506.34" y="171.6" text-anchor="middle" fill="#262626" style='font-family:"Liberation Sans",sans-serif;font-size:10px' >5<tspan style="font-size:12.5px">°</tspan></text>
<line x1="391.5" y1="157.3" x2="392.9" y2="157.3" stroke="#262626" stroke-width="0.9"/>
<line x1="523.5" y1="157.3" x2="522.1" y2="157.3" stroke="#262626" stroke-width="0.9"/>
<text x="389.3" y="161.5" text-anchor="end" fill="#262626" style='font-family:"Liberation Sans",sans-serif;font-size:10px' >0</text>
<line x1="391.5" y1="113.37" x2="392.9" y2="113.37" stroke="#262626" stroke-width="0.9"/>
<line x1="523.5" y1="113.37" x2="522.1" y2="113.37" stroke="#262626" stroke-width="0.9"/>
<text x="389.3" y="117.57" text-anchor="end" fill="#262626" style='font-family:"Liberation Sans",sans-serif;font-size:10px' >0.5</text>
<line x1="391.5" y1="69.43" x2="392.9" y2="69.43" stroke="#262626" stroke-width="0.9"/>
<line x1="523.5" y1="69.43" x2="522.1" y2="69.43" stroke="#262626" stroke-width="0.9"/>
<text x="389.3" y="73.63" text-anchor="end" fill="#262626" style='font-family:"Liberation Sans",sans-serif;font-size:10px' >1</text>
<line x1="391.5" y1="25.5" x2="392.9" y2="25.5" stroke="#262626" stroke-width="0.9"/>
<line x1="523.5" y1="25.5" x2="522.1" y2="25.5" stroke="#262626" stroke-width="0.9"/>
<text x="389.3" y="29.7" text-anchor="end" fill="#262626" style='font-family:"Liberation Sans",sans-serif;font-size:10px' >1.5</text>
<rect x="402.3" y="33.5" width="113.8" height="31" fill="#fff" stroke="#262626" stroke-width="0.9"/>
<line x1="406.6" y1="42.3" x2="448.6" y2="42.3" stroke="#0072bd" stroke-width="1.05"/>
<path d="M424.3,52.5L430.3,58.5M424.3,58.5L430.3,52.5" stroke="#111" stroke-width="0.9" fill="none"/>
<text x="452.5" y="45.8" text-anchor="start" fill="#111" style='font-family:"Liberation Sans",sans-serif;font-size:9.6px' >simulation</text>
<text x="452.5" y="59.1" text-anchor="start" fill="#111" style='font-family:"Liberation Sans",sans-serif;font-size:9.6px' >measurement</text>
<text x="457.5" y="187.9" text-anchor="middle" fill="#555" style='font-family:"Liberation Serif",serif;font-size:12.5px;font-style:italic' >δθ</text>
<text x="0" y="0" transform="translate(373.9,91.4) rotate(-90)" text-anchor="middle" fill="#262626" textLength="124.5" lengthAdjust="spacingAndGlyphs" style='font-family:"Liberation Sans",sans-serif;font-size:11px'>normalized conversion <tspan style='font-family:"Liberation Serif",serif;font-style:italic'>η</tspan></text>
<path d="M28.6,327.9L28.93,327.73 29.26,327.55 29.59,327.35 29.92,327.14 30.25,326.93 30.58,326.73 30.91,326.54 31.24,326.36 31.57,326.19 31.9,326.05 32.23,325.94 32.56,325.85 32.89,325.79 33.22,325.77 33.55,325.77 33.88,325.81 34.21,325.88 34.54,325.98 34.87,326.11 35.2,326.26 35.54,326.43 35.87,326.62 36.2,326.82 36.53,327.02 36.86,327.23 37.19,327.43 37.52,327.63 37.85,327.81 38.18,327.97 38.51,328.11 38.84,328.23 39.17,328.32 39.5,328.37 39.83,328.4 40.16,328.4 40.49,328.4 40.82,328.4 41.15,328.4 41.48,328.4 41.81,328.4 42.14,328.4 42.47,328.4 42.8,328.4 43.13,328.4 43.46,328.4 43.79,328.4 44.12,328.38 44.45,328.32 44.78,328.25 45.11,328.14 45.44,328.01 45.77,327.86 46.1,327.69 46.43,327.51 46.76,327.31 47.09,327.1 47.42,326.89 47.75,326.68 48.08,326.47 48.41,326.27 48.75,326.08 49.08,325.91 49.41,325.75 49.74,325.62 50.07,325.51 50.4,325.42 50.73,325.36 51.06,325.33 51.39,325.33 51.72,325.35 52.05,325.41 52.38,325.49 52.71,325.6 53.04,325.73 53.37,325.89 53.7,326.06 54.03,326.25 54.36,326.44 54.69,326.65 55.02,326.86 55.35,327.07 55.68,327.28 56.01,327.48 56.34,327.67 56.67,327.84 57,327.99 57.33,328.12 57.66,328.23 57.99,328.31 58.32,328.37 58.65,328.39 58.98,328.39 59.31,328.39 59.64,328.39 59.97,328.38 60.3,328.37 60.63,328.36 60.96,328.35 61.29,328.33 61.62,328.3 61.96,328.27 62.29,328.22 62.62,328.16 62.95,328.09 63.28,328 63.61,327.88 63.94,327.74 64.27,327.56 64.6,327.35 64.93,327.1 65.26,326.8 65.59,326.45 65.92,326.04 66.25,325.56 66.58,325.02 66.91,324.4 67.24,323.69 67.57,322.91 67.9,322.03 68.23,321.05 68.56,319.98 68.89,318.82 69.22,317.55 69.55,316.18 69.88,314.72 70.21,313.16 70.54,311.5 70.87,309.76 71.2,307.93 71.53,306.03 71.86,304.06 72.19,302.02 72.52,299.92 72.85,297.78 73.18,295.61 73.51,293.4 73.84,291.17 74.17,288.94 74.5,286.7 74.83,284.47 75.17,282.25 75.5,280.06 75.83,277.9 76.16,275.78 76.49,273.71 76.82,271.68 77.15,269.72 77.48,267.81 77.81,265.97 78.14,264.2 78.47,262.5 78.8,260.88 79.13,259.32 79.46,257.85 79.79,256.45 80.12,255.13 80.45,253.88 80.78,252.71 81.11,251.61 81.44,250.58 81.77,249.62 82.1,248.73 82.43,247.91 82.76,247.15 83.09,246.44 83.42,245.8 83.75,245.21 84.08,244.67 84.41,244.18 84.74,243.74 85.07,243.33 85.4,242.97 85.73,242.65 86.06,242.36 86.39,242.1 86.72,241.87 87.05,241.67 87.38,241.49 87.71,241.34 88.04,241.2 88.38,241.09 88.71,240.99 89.04,240.9 89.37,240.83 89.7,240.77 90.03,240.72 90.36,240.68 90.69,240.65 91.02,240.62 91.35,240.6 91.68,240.58 92.01,240.57 92.34,240.56 92.67,240.55 93,240.54 93.33,240.54 93.66,240.54 93.99,240.54 94.32,240.53 94.65,240.53 94.98,240.53 95.31,240.53 95.64,240.53 95.97,240.53 96.3,240.53 96.63,240.53 96.96,240.53 97.29,240.53 97.62,240.53 97.95,240.53 98.28,240.53 98.61,240.53 98.94,240.53 99.27,240.54 99.6,240.54 99.93,240.54 100.26,240.55 100.59,240.55 100.92,240.56 101.25,240.57 101.59,240.59 101.92,240.61 102.25,240.63 102.58,240.66 102.91,240.7 103.24,240.75 103.57,240.8 103.9,240.87 104.23,240.95 104.56,241.04 104.89,241.15 105.22,241.28 105.55,241.42 105.88,241.59 106.21,241.78 106.54,242 106.87,242.24 107.2,242.52 107.53,242.83 107.86,243.17 108.19,243.56 108.52,243.98 108.85,244.45 109.18,244.97 109.51,245.54 109.84,246.16 110.17,246.84 110.5,247.57 110.83,248.37 111.16,249.23 111.49,250.16 111.82,251.16 112.15,252.23 112.48,253.37 112.81,254.58 113.14,255.87 113.47,257.24 113.8,258.68 114.13,260.2 114.46,261.8 114.8,263.46 115.13,265.2 115.46,267.02 115.79,268.89 116.12,270.83 116.45,272.83 116.78,274.89 117.11,276.99 117.44,279.13 117.77,281.31 118.1,283.51 118.43,285.74 118.76,287.98 119.09,290.21 119.42,292.45 119.75,294.66 120.08,296.85 120.41,299.01 120.74,301.13 121.07,303.19 121.4,305.19 121.73,307.13 122.06,308.99 122.39,310.77 122.72,312.46 123.05,314.06 123.38,315.57 123.71,316.97 124.04,318.28 124.37,319.49 124.7,320.61 125.03,321.62 125.36,322.54 125.69,323.37 126.02,324.11 126.35,324.76 126.68,325.34 127.01,325.84 127.34,326.28 127.67,326.66 128.01,326.98 128.34,327.25 128.67,327.48 129,327.63 129.33,327.71 129.66,327.7 129.99,327.63 130.32,327.5 130.65,327.32 130.98,327.11 131.31,326.87 131.64,326.62 131.97,326.37 132.3,326.12 132.63,325.9 132.96,325.7 133.29,325.54 133.62,325.42 133.95,325.34 134.28,325.32 134.61,325.35 134.94,325.42 135.27,325.55 135.6,325.72 135.93,325.93 136.26,326.16 136.59,326.43 136.92,326.7 137.25,326.98 137.58,327.26 137.91,327.52 138.24,327.77 138.57,327.98 138.9,328.15 139.23,328.28 139.56,328.37 139.89,328.4 140.22,328.4 140.55,328.4 140.88,328.4 141.22,328.4 141.55,328.4 141.88,328.4 142.21,328.4 142.54,328.4 142.87,328.4 143.2,328.4 143.53,328.4 143.86,328.4 144.19,328.37 144.52,328.33 144.85,328.26 145.18,328.16 145.51,328.05 145.84,327.92 146.17,327.77 146.5,327.61 146.83,327.44 147.16,327.26 147.49,327.08 147.82,326.9 148.15,326.72 148.48,326.55 148.81,326.39 149.14,326.25 149.47,326.11 149.8,326 150.13,325.91 150.46,325.84 150.79,325.79 151.12,325.77 151.45,325.77 151.78,325.79 152.11,325.85 152.44,325.92 152.77,326.02 153.1,326.13 153.43,326.27 153.76,326.42 154.09,326.58 154.43,326.75 154.76,326.93 155.09,327.11 155.42,327.29 155.75,327.46 156.08,327.63 156.41,327.79 156.74,327.94 157.07,328.07 157.4,328.18 157.73,328.27 158.06,328.34 158.39,328.38 158.72,328.4 159.05,328.4 159.38,328.4 159.71,328.4 160.04,328.4 160.37,328.4 160.7,328.4" fill="none" stroke="#0072bd" stroke-width="1.05" clip-path="url(#cp5)"/>
<path d="M33.13,324.91L39.13,330.91M33.13,330.91L39.13,324.91" stroke="#111" stroke-width="0.9" fill="none"/>
<path d="M53.21,323.24L59.21,329.24M53.21,329.24L59.21,323.24" stroke="#111" stroke-width="0.9" fill="none"/>
<path d="M62.91,324.91L68.91,330.91M62.91,330.91L68.91,324.91" stroke="#111" stroke-width="0.9" fill="none"/>
<path d="M68.26,305.84L74.26,311.84M68.26,311.84L74.26,305.84" stroke="#111" stroke-width="0.9" fill="none"/>
<path d="M72.28,281.42L78.28,287.42M72.28,287.42L78.28,281.42" stroke="#111" stroke-width="0.9" fill="none"/>
<path d="M76.63,253.32L82.63,259.32M76.63,259.32L82.63,253.32" stroke="#111" stroke-width="0.9" fill="none"/>
<path d="M82.31,242.61L88.31,248.61M82.31,248.61L88.31,242.61" stroke="#111" stroke-width="0.9" fill="none"/>
<path d="M87.33,237.93L93.33,243.93M87.33,243.93L93.33,237.93" stroke="#111" stroke-width="0.9" fill="none"/>
<path d="M92.35,239.93L98.35,245.93M92.35,245.93L98.35,239.93" stroke="#111" stroke-width="0.9" fill="none"/>
<path d="M96.7,237.93L102.7,243.93M96.7,243.93L102.7,237.93" stroke="#111" stroke-width="0.9" fill="none"/>
<path d="M100.04,241.27L106.04,247.27M100.04,247.27L106.04,241.27" stroke="#111" stroke-width="0.9" fill="none"/>
<path d="M104.73,243.95L110.73,249.95M104.73,249.95L110.73,243.95" stroke="#111" stroke-width="0.9" fill="none"/>
<path d="M110.75,262.35L116.75,268.35M110.75,268.35L116.75,262.35" stroke="#111" stroke-width="0.9" fill="none"/>
<path d="M114.1,283.43L120.1,289.43M114.1,289.43L120.1,283.43" stroke="#111" stroke-width="0.9" fill="none"/>
<path d="M120.12,317.55L126.12,323.55M120.12,323.55L126.12,317.55" stroke="#111" stroke-width="0.9" fill="none"/>
<path d="M129.82,321.9L135.82,327.9M129.82,327.9L135.82,321.9" stroke="#111" stroke-width="0.9" fill="none"/>
<path d="M149.22,324.91L155.22,330.91M149.22,330.91L155.22,324.91" stroke="#111" stroke-width="0.9" fill="none"/>
<rect x="28.6" y="196.6" width="132.1" height="131.8" fill="none" stroke="#262626" stroke-width="1"/>
<line x1="47.47" y1="328.4" x2="47.47" y2="327" stroke="#262626" stroke-width="0.9"/>
<line x1="47.47" y1="196.6" x2="47.47" y2="198" stroke="#262626" stroke-width="0.9"/>
<text x="49.17" y="342.7" text-anchor="middle" fill="#262626" style='font-family:"Liberation Sans",sans-serif;font-size:10px' >-5<tspan style="font-size:12.5px">°</tspan></text>
<line x1="94.65" y1="328.4" x2="94.65" y2="327" stroke="#262626" stroke-width="0.9"/>
<line x1="94.65" y1="196.6" x2="94.65" y2="198" stroke="#262626" stroke-width="0.9"/>
<text x="94.65" y="342.7" text-anchor="middle" fill="#262626" style='font-family:"Liberation Sans",sans-serif;font-size:10px' >0</text>
<line x1="141.83" y1="328.4" x2="141.83" y2="327" stroke="#262626" stroke-width="0.9"/>
<line x1="141.83" y1="196.6" x2="141.83" y2="198" stroke="#262626" stroke-width="0.9"/>
<text x="143.53" y="342.7" text-anchor="middle" fill="#262626" style='font-family:"Liberation Sans",sans-serif;font-size:10px' >5<tspan style="font-size:12.5px">°</tspan></text>
<line x1="28.6" y1="328.4" x2="30" y2="328.4" stroke="#262626" stroke-width="0.9"/>
<line x1="160.7" y1="328.4" x2="159.3" y2="328.4" stroke="#262626" stroke-width="0.9"/>
<text x="26.4" y="332.6" text-anchor="end" fill="#262626" style='font-family:"Liberation Sans",sans-serif;font-size:10px' >0</text>
<line x1="28.6" y1="284.47" x2="30" y2="284.47" stroke="#262626" stroke-width="0.9"/>
<line x1="160.7" y1="284.47" x2="159.3" y2="284.47" stroke="#262626" stroke-width="0.9"/>
<text x="26.4" y="288.67" text-anchor="end" fill="#262626" style='font-family:"Liberation Sans",sans-serif;font-size:10px' >0.5</text>
<line x1="28.6" y1="240.53" x2="30" y2="240.53" stroke="#262626" stroke-width="0.9"/>
<line x1="160.7" y1="240.53" x2="159.3" y2="240.53" stroke="#262626" stroke-width="0.9"/>
<text x="26.4" y="244.73" text-anchor="end" fill="#262626" style='font-family:"Liberation Sans",sans-serif;font-size:10px' >1</text>
<line x1="28.6" y1="196.6" x2="30" y2="196.6" stroke="#262626" stroke-width="0.9"/>
<line x1="160.7" y1="196.6" x2="159.3" y2="196.6" stroke="#262626" stroke-width="0.9"/>
<text x="26.4" y="200.8" text-anchor="end" fill="#262626" style='font-family:"Liberation Sans",sans-serif;font-size:10px' >1.5</text>
<rect x="39.4" y="204.6" width="113.9" height="31" fill="#fff" stroke="#262626" stroke-width="0.9"/>
<line x1="43.7" y1="213.4" x2="85.7" y2="213.4" stroke="#0072bd" stroke-width="1.05"/>
<path d="M61.4,223.6L67.4,229.6M61.4,229.6L67.4,223.6" stroke="#111" stroke-width="0.9" fill="none"/>
<text x="89.6" y="216.9" text-anchor="start" fill="#111" style='font-family:"Liberation Sans",sans-serif;font-size:9.6px' >simulation</text>
<text x="89.6" y="230.2" text-anchor="start" fill="#111" style='font-family:"Liberation Sans",sans-serif;font-size:9.6px' >measurement</text>
<text x="94.65" y="359" text-anchor="middle" fill="#555" style='font-family:"Liberation Serif",serif;font-size:12.5px;font-style:italic' >δϕ</text>
<text x="0" y="0" transform="translate(11,262.5) rotate(-90)" text-anchor="middle" fill="#262626" textLength="124.5" lengthAdjust="spacingAndGlyphs" style='font-family:"Liberation Sans",sans-serif;font-size:11px'>normalized conversion <tspan style='font-family:"Liberation Serif",serif;font-style:italic'>η</tspan></text>
<path d="M551,328.4L551.33,328.4 551.66,328.4 551.99,328.4 552.32,328.4 552.64,328.4 552.97,328.4 553.3,328.4 553.63,328.4 553.96,328.4 554.29,328.4 554.62,328.4 554.95,328.4 555.28,328.37 555.61,328.32 555.93,328.24 556.26,328.15 556.59,328.03 556.92,327.9 557.25,327.75 557.58,327.59 557.91,327.41 558.24,327.24 558.57,327.06 558.9,326.88 559.22,326.7 559.55,326.53 559.88,326.37 560.21,326.23 560.54,326.1 560.87,325.99 561.2,325.9 561.53,325.83 561.86,325.78 562.19,325.77 562.51,325.77 562.84,325.8 563.17,325.85 563.5,325.93 563.83,326.03 564.16,326.15 564.49,326.29 564.82,326.44 565.15,326.6 565.48,326.77 565.8,326.95 566.13,327.13 566.46,327.31 566.79,327.49 567.12,327.66 567.45,327.81 567.78,327.96 568.11,328.08 568.44,328.19 568.77,328.28 569.09,328.34 569.42,328.38 569.75,328.4 570.08,328.4 570.41,328.4 570.74,328.4 571.07,328.4 571.4,328.4 571.73,328.4 572.06,328.4 572.38,328.4 572.71,328.4 573.04,328.4 573.37,328.4 573.7,328.4 574.03,328.38 574.36,328.35 574.69,328.29 575.02,328.22 575.35,328.13 575.67,328.03 576,327.91 576.33,327.79 576.66,327.65 576.99,327.5 577.32,327.34 577.65,327.17 577.98,327.01 578.31,326.84 578.64,326.67 578.96,326.5 579.29,326.34 579.62,326.19 579.95,326.04 580.28,325.9 580.61,325.78 580.94,325.66 581.27,325.56 581.6,325.48 581.93,325.42 582.25,325.37 582.58,325.34 582.91,325.32 583.24,325.33 583.57,325.35 583.9,325.4 584.23,325.46 584.56,325.53 584.89,325.62 585.22,325.73 585.54,325.84 585.87,325.96 586.2,326.09 586.53,326.23 586.86,326.36 587.19,326.49 587.52,326.61 587.85,326.72 588.18,326.8 588.51,326.87 588.83,326.9 589.16,326.89 589.49,326.84 589.82,326.74 590.15,326.58 590.48,326.35 590.81,326.05 591.14,325.66 591.47,325.18 591.8,324.61 592.12,323.94 592.45,323.16 592.78,322.28 593.11,321.3 593.44,320.23 593.77,319.05 594.1,317.77 594.43,316.38 594.76,314.9 595.09,313.32 595.41,311.64 595.74,309.88 596.07,308.03 596.4,306.1 596.73,304.11 597.06,302.05 597.39,299.94 597.72,297.79 598.05,295.6 598.38,293.38 598.7,291.16 599.03,288.92 599.36,286.69 599.69,284.47 600.02,282.27 600.35,280.09 600.68,277.96 601.01,275.86 601.34,273.81 601.67,271.82 602,269.89 602.32,268.01 602.65,266.21 602.98,264.47 603.31,262.8 603.64,261.21 603.97,259.69 604.3,258.25 604.63,256.88 604.96,255.58 605.28,254.36 605.61,253.21 605.94,252.12 606.27,251.11 606.6,250.17 606.93,249.28 607.26,248.47 607.59,247.71 607.92,247 608.25,246.35 608.57,245.76 608.9,245.21 609.23,244.71 609.56,244.25 609.89,243.83 610.22,243.45 610.55,243.11 610.88,242.8 611.21,242.52 611.54,242.27 611.86,242.04 612.19,241.84 612.52,241.66 612.85,241.5 613.18,241.36 613.51,241.24 613.84,241.13 614.17,241.04 614.5,240.96 614.83,240.89 615.15,240.83 615.48,240.78 615.81,240.73 616.14,240.69 616.47,240.66 616.8,240.64 617.13,240.61 617.46,240.6 617.79,240.58 618.12,240.57 618.44,240.56 618.77,240.55 619.1,240.55 619.43,240.54 619.76,240.54 620.09,240.54 620.42,240.54 620.75,240.54 621.08,240.53 621.41,240.53 621.74,240.53 622.06,240.53 622.39,240.53 622.72,240.53 623.05,240.53 623.38,240.53 623.71,240.53 624.04,240.53 624.37,240.53 624.7,240.53 625.02,240.53 625.35,240.53 625.68,240.53 626.01,240.53 626.34,240.53 626.67,240.53 627,240.53 627.33,240.53 627.66,240.53 627.99,240.53 628.31,240.54 628.64,240.54 628.97,240.54 629.3,240.54 629.63,240.54 629.96,240.55 630.29,240.55 630.62,240.56 630.95,240.57 631.28,240.58 631.6,240.59 631.93,240.61 632.26,240.63 632.59,240.65 632.92,240.68 633.25,240.71 633.58,240.76 633.91,240.8 634.24,240.86 634.57,240.93 634.89,241 635.22,241.09 635.55,241.19 635.88,241.31 636.21,241.44 636.54,241.59 636.87,241.76 637.2,241.95 637.53,242.17 637.86,242.41 638.18,242.67 638.51,242.97 638.84,243.3 639.17,243.66 639.5,244.07 639.83,244.51 640.16,244.99 640.49,245.52 640.82,246.09 641.15,246.72 641.47,247.4 641.8,248.13 642.13,248.93 642.46,249.78 642.79,250.7 643.12,251.68 643.45,252.73 643.78,253.85 644.11,255.05 644.44,256.31 644.76,257.65 645.09,259.06 645.42,260.55 645.75,262.11 646.08,263.75 646.41,265.45 646.74,267.23 647.07,269.08 647.4,270.98 647.73,272.95 648.05,274.98 648.38,277.05 648.71,279.17 649.04,281.33 649.37,283.52 649.7,285.73 650.03,287.96 650.36,290.2 650.69,292.43 651.02,294.65 651.35,296.85 651.67,299.02 652,301.15 652.33,303.23 652.66,305.25 652.99,307.21 653.32,309.09 653.65,310.9 653.98,312.61 654.31,314.23 654.63,315.76 654.96,317.19 655.29,318.51 655.62,319.73 655.95,320.85 656.28,321.87 656.61,322.79 656.94,323.62 657.27,324.35 657.6,325 657.92,325.57 658.25,326.06 658.58,326.48 658.91,326.84 659.24,327.15 659.57,327.4 659.9,327.61 660.23,327.78 660.56,327.92 660.89,328.01 661.21,328.04 661.54,328 661.87,327.92 662.2,327.79 662.53,327.62 662.86,327.42 663.19,327.19 663.52,326.93 663.85,326.66 664.18,326.38 664.5,326.09 664.83,325.8 665.16,325.52 665.49,325.25 665.82,325 666.15,324.76 666.48,324.56 666.81,324.38 667.14,324.23 667.47,324.12 667.79,324.05 668.12,324.01 668.45,324.01 668.78,324.05 669.11,324.13 669.44,324.25 669.77,324.4 670.1,324.58 670.43,324.8 670.76,325.03 671.08,325.29 671.41,325.56 671.74,325.85 672.07,326.14 672.4,326.43 672.73,326.72 673.06,327 673.39,327.27 673.72,327.51 674.05,327.73 674.38,327.93 674.7,328.1 675.03,328.23 675.36,328.32 675.69,328.38 676.02,328.4 676.35,328.4 676.68,328.4 677.01,328.4 677.34,328.4 677.66,328.4 677.99,328.4 678.32,328.35 678.65,328.23 678.98,328.06 679.31,327.85 679.64,327.6 679.97,327.34 680.3,327.07 680.63,326.82 680.95,326.6 681.28,326.41 681.61,326.28 681.94,326.21 682.27,326.21 682.6,326.27" fill="none" stroke="#0072bd" stroke-width="1.05" clip-path="url(#cp6)"/>
<path d="M556.2,324.91L562.2,330.91M556.2,330.91L562.2,324.91" stroke="#111" stroke-width="0.9" fill="none"/>
<path d="M574.93,324.91L580.93,330.91M574.93,330.91L580.93,324.91" stroke="#111" stroke-width="0.9" fill="none"/>
<path d="M584.97,321.57L590.97,327.57M584.97,327.57L590.97,321.57" stroke="#111" stroke-width="0.9" fill="none"/>
<path d="M590.66,324.24L596.66,330.24M590.66,330.24L596.66,324.24" stroke="#111" stroke-width="0.9" fill="none"/>
<path d="M595.01,313.54L601.01,319.54M595.01,319.54L601.01,313.54" stroke="#111" stroke-width="0.9" fill="none"/>
<path d="M599.02,286.1L605.02,292.1M599.02,292.1L605.02,286.1" stroke="#111" stroke-width="0.9" fill="none"/>
<path d="M604.04,261.35L610.04,267.35M604.04,267.35L610.04,261.35" stroke="#111" stroke-width="0.9" fill="none"/>
<path d="M606.72,252.98L612.72,258.98M606.72,258.98L612.72,252.98" stroke="#111" stroke-width="0.9" fill="none"/>
<path d="M609.73,243.28L615.73,249.28M609.73,249.28L615.73,243.28" stroke="#111" stroke-width="0.9" fill="none"/>
<path d="M614.08,237.26L620.08,243.26M614.08,243.26L620.08,237.26" stroke="#111" stroke-width="0.9" fill="none"/>
<path d="M618.09,241.27L624.09,247.27M618.09,247.27L624.09,241.27" stroke="#111" stroke-width="0.9" fill="none"/>
<path d="M619.77,243.95L625.77,249.95M619.77,249.95L625.77,243.95" stroke="#111" stroke-width="0.9" fill="none"/>
<path d="M621.77,245.62L627.77,251.62M621.77,251.62L627.77,245.62" stroke="#111" stroke-width="0.9" fill="none"/>
<path d="M624.11,244.62L630.11,250.62M624.11,250.62L630.11,244.62" stroke="#111" stroke-width="0.9" fill="none"/>
<path d="M629.13,240.6L635.13,246.6M629.13,246.6L635.13,240.6" stroke="#111" stroke-width="0.9" fill="none"/>
<path d="M634.15,238.93L640.15,244.93M634.15,244.93L640.15,238.93" stroke="#111" stroke-width="0.9" fill="none"/>
<path d="M636.83,238.93L642.83,244.93M636.83,244.93L642.83,238.93" stroke="#111" stroke-width="0.9" fill="none"/>
<path d="M642.52,260.01L648.52,266.01M642.52,266.01L648.52,260.01" stroke="#111" stroke-width="0.9" fill="none"/>
<path d="M651.88,313.54L657.88,319.54M651.88,319.54L657.88,313.54" stroke="#111" stroke-width="0.9" fill="none"/>
<path d="M671.96,324.91L677.96,330.91M671.96,330.91L677.96,324.91" stroke="#111" stroke-width="0.9" fill="none"/>
<rect x="551" y="196.6" width="131.6" height="131.8" fill="none" stroke="#262626" stroke-width="1"/>
<line x1="569.8" y1="328.4" x2="569.8" y2="327" stroke="#262626" stroke-width="0.9"/>
<line x1="569.8" y1="196.6" x2="569.8" y2="198" stroke="#262626" stroke-width="0.9"/>
<text x="571.5" y="342.7" text-anchor="middle" fill="#262626" style='font-family:"Liberation Sans",sans-serif;font-size:10px' >-5<tspan style="font-size:12.5px">°</tspan></text>
<line x1="616.8" y1="328.4" x2="616.8" y2="327" stroke="#262626" stroke-width="0.9"/>
<line x1="616.8" y1="196.6" x2="616.8" y2="198" stroke="#262626" stroke-width="0.9"/>
<text x="616.8" y="342.7" text-anchor="middle" fill="#262626" style='font-family:"Liberation Sans",sans-serif;font-size:10px' >0</text>
<line x1="663.8" y1="328.4" x2="663.8" y2="327" stroke="#262626" stroke-width="0.9"/>
<line x1="663.8" y1="196.6" x2="663.8" y2="198" stroke="#262626" stroke-width="0.9"/>
<text x="665.5" y="342.7" text-anchor="middle" fill="#262626" style='font-family:"Liberation Sans",sans-serif;font-size:10px' >5<tspan style="font-size:12.5px">°</tspan></text>
<line x1="551" y1="328.4" x2="552.4" y2="328.4" stroke="#262626" stroke-width="0.9"/>
<line x1="682.6" y1="328.4" x2="681.2" y2="328.4" stroke="#262626" stroke-width="0.9"/>
<text x="548.8" y="332.6" text-anchor="end" fill="#262626" style='font-family:"Liberation Sans",sans-serif;font-size:10px' >0</text>
<line x1="551" y1="284.47" x2="552.4" y2="284.47" stroke="#262626" stroke-width="0.9"/>
<line x1="682.6" y1="284.47" x2="681.2" y2="284.47" stroke="#262626" stroke-width="0.9"/>
<text x="548.8" y="288.67" text-anchor="end" fill="#262626" style='font-family:"Liberation Sans",sans-serif;font-size:10px' >0.5</text>
<line x1="551" y1="240.53" x2="552.4" y2="240.53" stroke="#262626" stroke-width="0.9"/>
<line x1="682.6" y1="240.53" x2="681.2" y2="240.53" stroke="#262626" stroke-width="0.9"/>
<text x="548.8" y="244.73" text-anchor="end" fill="#262626" style='font-family:"Liberation Sans",sans-serif;font-size:10px' >1</text>
<line x1="551" y1="196.6" x2="552.4" y2="196.6" stroke="#262626" stroke-width="0.9"/>
<line x1="682.6" y1="196.6" x2="681.2" y2="196.6" stroke="#262626" stroke-width="0.9"/>
<text x="548.8" y="200.8" text-anchor="end" fill="#262626" style='font-family:"Liberation Sans",sans-serif;font-size:10px' >1.5</text>
<rect x="561.8" y="204.6" width="113.4" height="31" fill="#fff" stroke="#262626" stroke-width="0.9"/>
<line x1="566.1" y1="213.4" x2="608.1" y2="213.4" stroke="#0072bd" stroke-width="1.05"/>
<path d="M583.8,223.6L589.8,229.6M583.8,229.6L589.8,223.6" stroke="#111" stroke-width="0.9" fill="none"/>
<text x="612" y="216.9" text-anchor="start" fill="#111" style='font-family:"Liberation Sans",sans-serif;font-size:9.6px' >simulation</text>
<text x="612" y="230.2" text-anchor="start" fill="#111" style='font-family:"Liberation Sans",sans-serif;font-size:9.6px' >measurement</text>
<text x="616.8" y="359" text-anchor="middle" fill="#555" style='font-family:"Liberation Serif",serif;font-size:12.5px;font-style:italic' >δϕ</text>
<text x="0" y="0" transform="translate(533.4,262.5) rotate(-90)" text-anchor="middle" fill="#262626" textLength="124.5" lengthAdjust="spacingAndGlyphs" style='font-family:"Liberation Sans",sans-serif;font-size:11px'>normalized conversion <tspan style='font-family:"Liberation Serif",serif;font-style:italic'>η</tspan></text>
<path d="M349.8,183.81L352.85,182.11 355.89,180.49 358.93,178.94 361.97,177.47 364.99,176.09 368.01,174.78 371.01,173.56 374,172.43 376.97,171.37 379.93,170.4 382.86,169.52 385.77,168.72 388.66,168.02 391.52,167.39 394.35,166.86 397.15,166.41 399.91,166.05 402.65,165.79 405.34,165.6 408,165.51 410.62,165.51 413.2,165.6 415.73,165.77 418.22,166.04 420.66,166.39 423.06,166.83 425.4,167.36 427.69,167.98 429.93,168.68 432.11,169.47 434.24,170.35 436.31,171.32 438.32,172.36 440.26,173.5 442.15,174.71 443.97,176.01 445.73,177.39 447.43,178.85 449.05,180.4 450.61,182.02 452.1,183.72 453.52,185.49 454.87,187.34 456.14,189.26 457.34,191.26 458.47,193.33 459.53,195.47 460.51,197.67 461.41,199.95 462.24,202.29 462.99,204.69 463.66,207.15 464.26,209.68 464.77,212.26 465.21,214.91 465.57,217.6 465.85,220.35 466.05,223.15 466.17,226 466.21,228.9 466.17,231.85 466.05,234.83 465.85,237.86 465.57,240.93 465.21,244.04 464.77,247.18 464.26,250.35 463.66,253.56 462.99,256.79 462.24,260.05 461.41,263.33 460.51,266.64 459.53,269.96 458.47,273.31 457.34,276.67 456.14,280.04 454.87,283.42 453.52,286.81 452.1,290.21 450.61,293.6 449.05,297.01 447.43,300.4 445.73,303.8 443.97,307.19 442.15,310.57 440.26,313.95 438.32,317.3 436.31,320.65 434.24,323.98 432.11,327.28 429.93,330.57 427.69,333.83 425.4,337.06 423.06,340.27 420.66,343.45 418.22,346.59 415.73,349.7 413.2,352.77 410.62,355.8 408,358.79 405.34,361.73 402.65,364.64 399.91,367.49 397.15,370.29 394.35,373.05 391.52,375.75 388.66,378.39 385.77,380.98 382.86,383.51 379.93,385.97 376.97,388.38 374,390.72 371.01,393 368.01,395.21 364.99,397.35 361.97,399.43 358.93,401.43 355.89,403.35 352.85,405.21 349.8,406.99 346.75,408.69 343.71,410.31 340.67,411.86 337.63,413.33 334.61,414.71 331.59,416.02 328.59,417.24 325.6,418.37 322.63,419.43 319.67,420.4 316.74,421.28 313.83,422.08 310.94,422.78 308.08,423.41 305.25,423.94 302.45,424.39 299.69,424.75 296.95,425.01 294.26,425.2 291.6,425.29 288.98,425.29 286.4,425.2 283.87,425.03 281.38,424.76 278.94,424.41 276.54,423.97 274.2,423.44 271.91,422.82 269.67,422.12 267.49,421.33 265.36,420.45 263.29,419.48 261.28,418.44 259.34,417.3 257.45,416.09 255.63,414.79 253.87,413.41 252.17,411.95 250.55,410.4 248.99,408.78 247.5,407.08 246.08,405.31 244.73,403.46 243.46,401.54 242.26,399.54 241.13,397.47 240.07,395.33 239.09,393.13 238.19,390.85 237.36,388.51 236.61,386.11 235.94,383.65 235.34,381.12 234.83,378.54 234.39,375.89 234.03,373.2 233.75,370.45 233.55,367.65 233.43,364.8 233.39,361.9" fill="none" stroke="#00ee00" stroke-width="0.85" stroke-opacity="0.22"/>
<path d="M349.8,183.81L346.77,182.13 343.75,180.52 340.73,178.99 337.72,177.53 334.71,176.16 331.72,174.88 328.73,173.67 325.77,172.55 322.81,171.51 319.88,170.56 316.97,169.69 314.08,168.91 311.21,168.21 308.37,167.61 305.56,167.09 302.78,166.65 300.04,166.31 297.32,166.05 294.64,165.89 292,165.81 289.4,165.82 286.84,165.92 284.33,166.11 281.86,166.38 279.43,166.75 277.05,167.2 274.73,167.75 272.45,168.37 270.23,169.09 268.06,169.89 265.95,170.78 263.9,171.76 261.9,172.81 259.97,173.96 258.09,175.18 256.28,176.49 254.54,177.88 252.85,179.35 251.24,180.9 249.69,182.53 248.21,184.23 246.8,186.02 245.47,187.87 244.2,189.8 243,191.81 241.88,193.88 240.84,196.02 239.86,198.24 238.97,200.51 238.14,202.86 237.4,205.26 236.73,207.73 236.14,210.26 235.63,212.85 235.19,215.49 234.84,218.19 234.56,220.94 234.36,223.74 234.25,226.59 234.21,229.49 234.25,232.44 234.36,235.42 234.56,238.45 234.84,241.52 235.19,244.62 235.63,247.76 236.14,250.93 236.73,254.13 237.4,257.36 238.14,260.62 238.97,263.9 239.86,267.2 240.84,270.52 241.88,273.86 243,277.21 244.2,280.58 245.47,283.95 246.8,287.34 248.21,290.72 249.69,294.12 251.24,297.51 252.85,300.9 254.54,304.29 256.28,307.67 258.09,311.04 259.97,314.41 261.9,317.75 263.9,321.09 265.95,324.4 268.06,327.7 270.23,330.98 272.45,334.23 274.73,337.45 277.05,340.64 279.43,343.81 281.86,346.94 284.33,350.03 286.84,353.09 289.4,356.11 292,359.08 294.64,362.02 297.32,364.9 300.04,367.74 302.78,370.53 305.56,373.27 308.37,375.96 311.21,378.59 314.08,381.16 316.97,383.67 319.88,386.13 322.81,388.52 325.77,390.85 328.73,393.11 331.72,395.3 334.71,397.43 337.72,399.49 340.73,401.47 343.75,403.39 346.77,405.22 349.8,406.99 352.83,408.67 355.85,410.28 358.87,411.81 361.88,413.27 364.89,414.64 367.88,415.92 370.87,417.13 373.83,418.25 376.79,419.29 379.72,420.24 382.63,421.11 385.52,421.89 388.39,422.59 391.23,423.19 394.04,423.71 396.82,424.15 399.56,424.49 402.28,424.75 404.96,424.91 407.6,424.99 410.2,424.98 412.76,424.88 415.27,424.69 417.74,424.42 420.17,424.05 422.55,423.6 424.87,423.05 427.15,422.43 429.37,421.71 431.54,420.91 433.65,420.02 435.7,419.04 437.7,417.99 439.63,416.84 441.51,415.62 443.32,414.31 445.06,412.92 446.75,411.45 448.36,409.9 449.91,408.27 451.39,406.57 452.8,404.78 454.13,402.93 455.4,401 456.6,398.99 457.72,396.92 458.76,394.78 459.74,392.56 460.63,390.29 461.46,387.94 462.2,385.54 462.87,383.07 463.46,380.54 463.97,377.95 464.41,375.31 464.76,372.61 465.04,369.86 465.24,367.06 465.35,364.21 465.39,361.31" fill="none" stroke="#00ee00" stroke-width="0.85" stroke-opacity="0.22"/>
<path d="M349.8,182.17L352.35,180.75 354.9,179.41 357.45,178.15 359.99,176.97 362.53,175.87 365.06,174.85 367.57,173.91 370.08,173.06 372.57,172.29 375.04,171.61 377.5,171.01 379.94,170.5 382.35,170.07 384.75,169.73 387.12,169.47 389.47,169.3 391.78,169.22 394.07,169.22 396.33,169.31 398.56,169.48 400.76,169.75 402.91,170.09 405.04,170.53 407.12,171.05 409.17,171.65 411.17,172.34 413.14,173.12 415.06,173.98 416.93,174.92 418.76,175.94 420.54,177.05 422.27,178.23 423.96,179.5 425.59,180.85 427.17,182.27 428.7,183.77 430.17,185.35 431.59,187.01 432.95,188.74 434.26,190.54 435.5,192.41 436.69,194.36 437.82,196.37 438.89,198.45 439.9,200.6 440.85,202.81 441.73,205.09 442.55,207.43 443.31,209.82 444,212.28 444.63,214.79 445.19,217.36 445.69,219.99 446.12,222.66 446.49,225.39 446.79,228.16 447.02,230.98 447.19,233.84 447.29,236.74 447.32,239.69 447.29,242.67 447.19,245.69 447.02,248.74 446.79,251.83 446.49,254.94 446.12,258.09 445.69,261.26 445.19,264.45 444.63,267.66 444,270.89 443.31,274.14 442.55,277.41 441.73,280.68 440.85,283.97 439.9,287.26 438.89,290.56 437.82,293.86 436.69,297.17 435.5,300.47 434.26,303.77 432.95,307.06 431.59,310.35 430.17,313.62 428.7,316.88 427.17,320.13 425.59,323.36 423.96,326.57 422.27,329.76 420.54,332.93 418.76,336.07 416.93,339.18 415.06,342.27 413.14,345.32 411.17,348.34 409.17,351.32 407.12,354.26 405.04,357.16 402.91,360.02 400.76,362.83 398.56,365.6 396.33,368.32 394.07,371 391.78,373.61 389.47,376.18 387.12,378.69 384.75,381.14 382.35,383.54 379.94,385.87 377.5,388.14 375.04,390.35 372.57,392.5 370.08,394.57 367.57,396.58 365.06,398.52 362.53,400.39 359.99,402.19 357.45,403.91 354.9,405.56 352.35,407.13 349.8,408.63 347.25,410.05 344.7,411.39 342.15,412.65 339.61,413.83 337.07,414.93 334.54,415.95 332.03,416.89 329.52,417.74 327.03,418.51 324.56,419.19 322.1,419.79 319.66,420.3 317.25,420.73 314.85,421.07 312.48,421.33 310.13,421.5 307.82,421.58 305.53,421.58 303.27,421.49 301.04,421.32 298.84,421.05 296.69,420.71 294.56,420.27 292.48,419.75 290.43,419.15 288.43,418.46 286.46,417.68 284.54,416.82 282.67,415.88 280.84,414.86 279.06,413.75 277.33,412.57 275.64,411.3 274.01,409.95 272.43,408.53 270.9,407.03 269.43,405.45 268.01,403.79 266.65,402.06 265.34,400.26 264.1,398.39 262.91,396.44 261.78,394.43 260.71,392.35 259.7,390.2 258.75,387.99 257.87,385.71 257.05,383.37 256.29,380.98 255.6,378.52 254.97,376.01 254.41,373.44 253.91,370.81 253.48,368.14 253.11,365.41 252.81,362.64 252.58,359.82 252.41,356.96 252.31,354.06 252.28,351.11" fill="none" stroke="#00ee00" stroke-width="0.85" stroke-dasharray="2.2 1.6" stroke-opacity="0.22"/>
<path d="M349.8,184.63L347.3,183.25 344.81,181.94 342.32,180.71 339.83,179.56 337.35,178.48 334.88,177.49 332.42,176.58 329.97,175.75 327.54,175 325.12,174.33 322.71,173.75 320.33,173.25 317.96,172.84 315.62,172.5 313.3,172.26 311.01,172.09 308.74,172.01 306.5,172.02 304.29,172.11 302.11,172.28 299.97,172.54 297.86,172.89 295.78,173.31 293.74,173.83 291.74,174.42 289.78,175.1 287.86,175.86 285.98,176.7 284.15,177.62 282.36,178.63 280.62,179.71 278.92,180.87 277.28,182.11 275.68,183.43 274.13,184.83 272.64,186.3 271.2,187.85 269.81,189.47 268.48,191.16 267.2,192.92 265.98,194.76 264.82,196.66 263.72,198.63 262.67,200.67 261.69,202.77 260.76,204.94 259.9,207.17 259.09,209.45 258.35,211.8 257.68,214.21 257.06,216.67 256.51,219.18 256.02,221.75 255.6,224.36 255.24,227.03 254.95,229.74 254.72,232.5 254.56,235.3 254.46,238.14 254.43,241.02 254.46,243.94 254.56,246.89 254.72,249.88 254.95,252.9 255.24,255.94 255.6,259.02 256.02,262.12 256.51,265.24 257.06,268.38 257.68,271.54 258.35,274.72 259.09,277.91 259.9,281.12 260.76,284.33 261.69,287.55 262.67,290.78 263.72,294.01 264.82,297.24 265.98,300.46 267.2,303.69 268.48,306.91 269.81,310.12 271.2,313.32 272.64,316.51 274.13,319.69 275.68,322.85 277.28,325.99 278.92,329.11 280.62,332.2 282.36,335.27 284.15,338.32 285.98,341.33 287.86,344.31 289.78,347.26 291.74,350.17 293.74,353.05 295.78,355.89 297.86,358.68 299.97,361.43 302.11,364.14 304.29,366.8 306.5,369.41 308.74,371.97 311.01,374.47 313.3,376.93 315.62,379.32 317.96,381.66 320.33,383.94 322.71,386.16 325.12,388.32 327.54,390.41 329.97,392.44 332.42,394.4 334.88,396.3 337.35,398.12 339.83,399.88 342.32,401.56 344.81,403.17 347.3,404.7 349.8,406.17 352.3,407.55 354.79,408.86 357.28,410.09 359.77,411.24 362.25,412.32 364.72,413.31 367.18,414.22 369.63,415.05 372.06,415.8 374.48,416.47 376.89,417.05 379.27,417.55 381.64,417.96 383.98,418.3 386.3,418.54 388.59,418.71 390.86,418.79 393.1,418.78 395.31,418.69 397.49,418.52 399.63,418.26 401.74,417.91 403.82,417.49 405.86,416.97 407.86,416.38 409.82,415.7 411.74,414.94 413.62,414.1 415.45,413.18 417.24,412.17 418.98,411.09 420.68,409.93 422.32,408.69 423.92,407.37 425.47,405.97 426.96,404.5 428.4,402.95 429.79,401.33 431.12,399.64 432.4,397.88 433.62,396.04 434.78,394.14 435.88,392.17 436.93,390.13 437.91,388.03 438.84,385.86 439.7,383.63 440.51,381.35 441.25,379 441.92,376.59 442.54,374.13 443.09,371.62 443.58,369.05 444,366.44 444.36,363.77 444.65,361.06 444.88,358.3 445.04,355.5 445.14,352.66 445.17,349.78" fill="none" stroke="#00ee00" stroke-width="0.85" stroke-dasharray="2.2 1.6" stroke-opacity="0.22"/>
<path d="M445.17,349.78L447.69,348.3 450.15,346.79 452.53,345.24 454.85,343.66 457.09,342.04 459.26,340.39 461.35,338.71 463.37,337.01 465.31,335.27 467.17,333.51 468.94,331.72 470.64,329.9 472.26,328.06 473.79,326.2 475.23,324.32 476.59,322.42 477.87,320.5 479.05,318.56 480.15,316.61 481.16,314.64 482.08,312.66 482.9,310.66 483.64,308.66 484.28,306.65 484.83,304.63 485.29,302.6 485.66,300.57 485.93,298.53 486.11,296.5 486.2,294.46 486.19,292.42 486.09,290.38 485.9,288.35 485.61,286.33 485.23,284.3 484.76,282.29 484.19,280.29 483.53,278.29 482.78,276.31 481.94,274.34 481.01,272.39 479.99,270.45 478.88,268.53 477.68,266.62 476.4,264.74 475.02,262.88 473.57,261.04 472.02,259.22 470.39,257.43 468.68,255.66 466.89,253.92 465.02,252.21 463.07,250.53 461.04,248.88 458.94,247.26 456.76,245.68 454.51,244.13 452.18,242.61 449.79,241.13 447.32,239.69 444.79,238.28 442.2,236.92 439.54,235.59 436.82,234.31 434.04,233.07 431.2,231.87 428.31,230.71 425.36,229.6 422.36,228.53 419.32,227.51 416.22,226.54 413.08,225.61 409.89,224.73 406.67,223.9 403.4,223.12 400.1,222.39 396.76,221.71 393.39,221.07 390,220.49 386.57,219.96 383.12,219.49 379.65,219.06 376.15,218.69 372.64,218.37 369.11,218.1 365.57,217.88 362.02,217.72 358.46,217.61 354.89,217.56 351.32,217.55 347.75,217.61 344.18,217.71 340.61,217.87 337.05,218.08 333.5,218.34 329.96,218.66 326.44,219.03 322.93,219.45 319.44,219.93 315.96,220.45 312.52,221.03 309.1,221.66 305.7,222.33 302.34,223.06 299.01,223.84 295.71,224.67 292.45,225.54 289.23,226.47 286.05,227.44 282.92,228.46 279.83,229.52 276.79,230.63 273.79,231.78 270.86,232.98 267.97,234.22 265.14,235.5 262.37,236.82 259.66,238.18 257.01,239.58 254.43,241.02 251.91,242.5 249.45,244.01 247.07,245.56 244.75,247.14 242.51,248.76 240.34,250.41 238.25,252.09 236.23,253.79 234.29,255.53 232.43,257.29 230.66,259.08 228.96,260.9 227.34,262.74 225.81,264.6 224.37,266.48 223.01,268.38 221.73,270.3 220.55,272.24 219.45,274.19 218.44,276.16 217.52,278.14 216.7,280.14 215.96,282.14 215.32,284.15 214.77,286.17 214.31,288.2 213.94,290.23 213.67,292.27 213.49,294.3 213.4,296.34 213.41,298.38 213.51,300.42 213.7,302.45 213.99,304.47 214.37,306.5 214.84,308.51 215.41,310.51 216.07,312.51 216.82,314.49 217.66,316.46 218.59,318.41 219.61,320.35 220.72,322.27 221.92,324.18 223.2,326.06 224.58,327.92 226.03,329.76 227.58,331.58 229.21,333.37 230.92,335.14 232.71,336.88 234.58,338.59 236.53,340.27 238.56,341.92 240.66,343.54 242.84,345.12 245.09,346.67 247.42,348.19 249.81,349.67 252.28,351.11" fill="none" stroke="#00ee00" stroke-width="0.85" stroke-opacity="0.22"/>
<path d="M465.39,361.31L468.4,359.54 471.33,357.74 474.17,355.89 476.93,353.99 479.6,352.06 482.18,350.09 484.67,348.08 487.07,346.04 489.37,343.96 491.58,341.85 493.7,339.71 495.71,337.53 497.62,335.33 499.43,333.1 501.14,330.84 502.75,328.56 504.25,326.26 505.64,323.93 506.93,321.59 508.11,319.23 509.18,316.85 510.14,314.46 511,312.05 511.74,309.63 512.37,307.21 512.89,304.77 513.3,302.33 513.59,299.88 513.78,297.43 513.85,294.98 513.81,292.53 513.65,290.08 513.39,287.64 513.01,285.2 512.52,282.76 511.92,280.34 511.21,277.93 510.38,275.53 509.45,273.14 508.41,270.76 507.26,268.41 506,266.07 504.63,263.75 503.16,261.46 501.58,259.18 499.9,256.94 498.11,254.72 496.23,252.52 494.24,250.36 492.16,248.23 489.97,246.12 487.69,244.06 485.32,242.03 482.85,240.03 480.3,238.07 477.65,236.16 474.92,234.28 472.1,232.44 469.19,230.65 466.21,228.9 463.14,227.2 460,225.54 456.78,223.94 453.48,222.38 450.12,220.87 446.69,219.41 443.19,218 439.63,216.65 436,215.35 432.32,214.11 428.58,212.92 424.79,211.79 420.94,210.72 417.05,209.7 413.11,208.74 409.12,207.84 405.1,207.01 401.04,206.23 396.94,205.51 392.81,204.86 388.65,204.26 384.47,203.73 380.26,203.27 376.03,202.86 371.78,202.52 367.52,202.24 363.24,202.03 358.96,201.88 354.67,201.8 350.37,201.78 346.08,201.82 341.79,201.93 337.5,202.1 333.22,202.33 328.96,202.63 324.7,202.99 320.47,203.42 316.25,203.91 312.06,204.46 307.89,205.07 303.76,205.75 299.65,206.49 295.58,207.29 291.55,208.14 287.55,209.06 283.6,210.04 279.69,211.08 275.83,212.17 272.03,213.32 268.27,214.53 264.57,215.79 260.93,217.11 257.35,218.48 253.84,219.9 250.39,221.38 247.01,222.9 243.69,224.48 240.46,226.1 237.29,227.78 234.21,229.49 231.2,231.26 228.27,233.06 225.43,234.91 222.67,236.81 220,238.74 217.42,240.71 214.93,242.72 212.53,244.76 210.23,246.84 208.02,248.95 205.9,251.09 203.89,253.27 201.98,255.47 200.17,257.7 198.46,259.96 196.85,262.24 195.35,264.54 193.96,266.87 192.67,269.21 191.49,271.57 190.42,273.95 189.46,276.34 188.6,278.75 187.86,281.17 187.23,283.59 186.71,286.03 186.3,288.47 186.01,290.92 185.82,293.37 185.75,295.82 185.79,298.27 185.95,300.72 186.21,303.16 186.59,305.6 187.08,308.04 187.68,310.46 188.39,312.87 189.22,315.27 190.15,317.66 191.19,320.04 192.34,322.39 193.6,324.73 194.97,327.05 196.44,329.34 198.02,331.62 199.7,333.86 201.49,336.08 203.37,338.28 205.36,340.44 207.44,342.57 209.63,344.68 211.91,346.74 214.28,348.77 216.75,350.77 219.3,352.73 221.95,354.64 224.68,356.52 227.5,358.36 230.41,360.15 233.39,361.9" fill="none" stroke="#00ee00" stroke-width="0.85" stroke-dasharray="2.2 1.6" stroke-opacity="0.22"/>
<path d="M349.8,193.42L352.56,191.88 355.31,190.41 358.07,189.01 360.81,187.69 363.55,186.43 366.28,185.26 369,184.16 371.71,183.13 374.4,182.18 377.07,181.31 379.73,180.52 382.36,179.81 384.97,179.17 387.56,178.62 390.12,178.15 392.66,177.75 395.16,177.44 397.64,177.21 400.08,177.05 402.49,176.98 404.86,176.99 407.19,177.09 409.48,177.26 411.74,177.51 413.95,177.85 416.11,178.26 418.23,178.76 420.31,179.33 422.33,179.99 424.31,180.72 426.23,181.54 428.11,182.43 429.93,183.4 431.69,184.44 433.4,185.56 435.05,186.76 436.64,188.03 438.17,189.37 439.65,190.79 441.06,192.28 442.4,193.84 443.69,195.47 444.91,197.16 446.06,198.93 447.15,200.76 448.17,202.66 449.13,204.61 450.02,206.64 450.83,208.72 451.58,210.86 452.26,213.06 452.87,215.32 453.41,217.63 453.88,219.99 454.27,222.41 454.6,224.87 454.85,227.39 455.03,229.95 455.14,232.56 455.17,235.2 455.14,237.89 455.03,240.62 454.85,243.39 454.6,246.19 454.27,249.03 453.88,251.9 453.41,254.8 452.87,257.72 452.26,260.67 451.58,263.65 450.83,266.65 450.02,269.66 449.13,272.7 448.17,275.75 447.15,278.81 446.06,281.89 444.91,284.97 443.69,288.06 442.4,291.16 441.06,294.26 439.65,297.36 438.17,300.46 436.64,303.55 435.05,306.64 433.4,309.73 431.69,312.8 429.93,315.86 428.11,318.9 426.23,321.93 424.31,324.95 422.33,327.94 420.31,330.91 418.23,333.85 416.11,336.77 413.95,339.66 411.74,342.52 409.48,345.35 407.19,348.14 404.86,350.9 402.49,353.62 400.08,356.3 397.64,358.94 395.16,361.53 392.66,364.08 390.12,366.58 387.56,369.03 384.97,371.44 382.36,373.79 379.73,376.08 377.07,378.33 374.4,380.51 371.71,382.64 369,384.7 366.28,386.71 363.55,388.65 360.81,390.53 358.07,392.34 355.31,394.09 352.56,395.77 349.8,397.38 347.04,398.92 344.29,400.39 341.53,401.79 338.79,403.11 336.05,404.37 333.32,405.54 330.6,406.64 327.89,407.67 325.2,408.62 322.53,409.49 319.87,410.28 317.24,410.99 314.63,411.63 312.04,412.18 309.48,412.65 306.94,413.05 304.44,413.36 301.96,413.59 299.52,413.75 297.11,413.82 294.74,413.81 292.41,413.71 290.12,413.54 287.86,413.29 285.65,412.95 283.49,412.54 281.37,412.04 279.29,411.47 277.27,410.81 275.29,410.08 273.37,409.26 271.49,408.37 269.67,407.4 267.91,406.36 266.2,405.24 264.55,404.04 262.96,402.77 261.43,401.43 259.95,400.01 258.54,398.52 257.2,396.96 255.91,395.33 254.69,393.64 253.54,391.87 252.45,390.04 251.43,388.14 250.47,386.19 249.58,384.16 248.77,382.08 248.02,379.94 247.34,377.74 246.73,375.48 246.19,373.17 245.72,370.81 245.33,368.39 245,365.93 244.75,363.41 244.57,360.85 244.46,358.24 244.43,355.6" fill="none" stroke="#ff0d0d" stroke-width="0.85" stroke-opacity="0.22"/>
<path d="M349.8,193.42L347.06,191.89 344.32,190.43 341.58,189.05 338.86,187.74 336.13,186.5 333.42,185.34 330.72,184.25 328.03,183.24 325.36,182.3 322.7,181.44 320.06,180.66 317.44,179.96 314.85,179.34 312.28,178.8 309.73,178.34 307.21,177.95 304.72,177.65 302.26,177.43 299.84,177.29 297.45,177.23 295.09,177.25 292.77,177.36 290.49,177.54 288.25,177.81 286.06,178.15 283.91,178.58 281.8,179.08 279.74,179.67 277.72,180.33 275.76,181.08 273.85,181.9 271.99,182.8 270.18,183.77 268.43,184.83 266.73,185.96 265.09,187.16 263.51,188.44 261.99,189.79 260.52,191.21 259.12,192.71 257.78,194.27 256.51,195.91 255.29,197.61 254.15,199.38 253.06,201.22 252.05,203.12 251.1,205.08 250.22,207.11 249.41,209.2 248.66,211.34 247.99,213.54 247.38,215.8 246.85,218.12 246.38,220.48 245.99,222.9 245.67,225.37 245.42,227.88 245.24,230.45 245.13,233.05 245.09,235.7 245.13,238.39 245.24,241.12 245.42,243.89 245.67,246.69 245.99,249.52 246.38,252.39 246.85,255.29 247.38,258.21 247.99,261.16 248.66,264.13 249.41,267.12 250.22,270.14 251.1,273.17 252.05,276.21 253.06,279.27 254.15,282.34 255.29,285.42 256.51,288.51 257.78,291.6 259.12,294.69 260.52,297.78 261.99,300.87 263.51,303.96 265.09,307.05 266.73,310.12 268.43,313.18 270.18,316.24 271.99,319.27 273.85,322.29 275.76,325.3 277.72,328.28 279.74,331.24 281.8,334.18 283.91,337.08 286.06,339.96 288.25,342.81 290.49,345.63 292.77,348.41 295.09,351.16 297.45,353.87 299.84,356.54 302.26,359.16 304.72,361.75 307.21,364.28 309.73,366.77 312.28,369.21 314.85,371.6 317.44,373.94 320.06,376.23 322.7,378.45 325.36,380.63 328.03,382.74 330.72,384.79 333.42,386.79 336.13,388.72 338.86,390.58 341.58,392.38 344.32,394.12 347.06,395.78 349.8,397.38 352.54,398.91 355.28,400.37 358.02,401.75 360.74,403.06 363.47,404.3 366.18,405.46 368.88,406.55 371.57,407.56 374.24,408.5 376.9,409.36 379.54,410.14 382.16,410.84 384.75,411.46 387.32,412 389.87,412.46 392.39,412.85 394.88,413.15 397.34,413.37 399.76,413.51 402.15,413.57 404.51,413.55 406.83,413.44 409.11,413.26 411.35,412.99 413.54,412.65 415.69,412.22 417.8,411.72 419.86,411.13 421.88,410.47 423.84,409.72 425.75,408.9 427.61,408 429.42,407.03 431.17,405.97 432.87,404.84 434.51,403.64 436.09,402.36 437.61,401.01 439.08,399.59 440.48,398.09 441.82,396.53 443.09,394.89 444.31,393.19 445.45,391.42 446.54,389.58 447.55,387.68 448.5,385.72 449.38,383.69 450.19,381.6 450.94,379.46 451.61,377.26 452.22,375 452.75,372.68 453.22,370.32 453.61,367.9 453.93,365.43 454.18,362.92 454.36,360.35 454.47,357.75 454.51,355.1" fill="none" stroke="#ff0d0d" stroke-width="0.85" stroke-opacity="0.22"/>
<path d="M349.8,190.71L352.16,189.4 354.52,188.16 356.87,186.99 359.23,185.9 361.57,184.88 363.91,183.94 366.23,183.08 368.55,182.29 370.85,181.58 373.14,180.95 375.41,180.39 377.66,179.92 379.9,179.52 382.11,179.2 384.31,178.97 386.47,178.81 388.62,178.73 390.74,178.74 392.82,178.82 394.88,178.98 396.91,179.22 398.91,179.55 400.87,179.95 402.8,180.43 404.69,180.99 406.54,181.62 408.36,182.34 410.13,183.13 411.87,184 413.56,184.95 415.21,185.97 416.81,187.07 418.36,188.24 419.87,189.49 421.34,190.8 422.75,192.19 424.11,193.65 425.42,195.18 426.68,196.78 427.89,198.45 429.04,200.18 430.14,201.98 431.18,203.84 432.17,205.76 433.1,207.75 433.98,209.79 434.8,211.9 435.55,214.06 436.25,216.28 436.9,218.55 437.48,220.87 438,223.25 438.46,225.67 438.86,228.15 439.2,230.67 439.47,233.23 439.69,235.83 439.84,238.48 439.94,241.17 439.97,243.89 439.94,246.65 439.84,249.44 439.69,252.26 439.47,255.12 439.2,258 438.86,260.9 438.46,263.83 438,266.78 437.48,269.75 436.9,272.74 436.25,275.74 435.55,278.76 434.8,281.79 433.98,284.83 433.1,287.87 432.17,290.92 431.18,293.98 430.14,297.03 429.04,300.09 427.89,303.14 426.68,306.18 425.42,309.22 424.11,312.25 422.75,315.26 421.34,318.27 419.87,321.25 418.36,324.22 416.81,327.17 415.21,330.1 413.56,333 411.87,335.88 410.13,338.73 408.36,341.55 406.54,344.34 404.69,347.1 402.8,349.82 400.87,352.5 398.91,355.15 396.91,357.75 394.88,360.31 392.82,362.83 390.74,365.29 388.62,367.72 386.47,370.09 384.31,372.41 382.11,374.68 379.9,376.89 377.66,379.05 375.41,381.15 373.14,383.19 370.85,385.17 368.55,387.09 366.23,388.95 363.91,390.74 361.57,392.47 359.23,394.13 356.87,395.73 354.52,397.25 352.16,398.71 349.8,400.09 347.44,401.4 345.08,402.64 342.73,403.81 340.37,404.9 338.03,405.92 335.69,406.86 333.37,407.72 331.05,408.51 328.75,409.22 326.46,409.85 324.19,410.41 321.94,410.88 319.7,411.28 317.49,411.6 315.29,411.83 313.13,411.99 310.98,412.07 308.86,412.06 306.78,411.98 304.72,411.82 302.69,411.58 300.69,411.25 298.73,410.85 296.8,410.37 294.91,409.81 293.06,409.18 291.24,408.46 289.47,407.67 287.73,406.8 286.04,405.85 284.39,404.83 282.79,403.73 281.24,402.56 279.73,401.31 278.26,400 276.85,398.61 275.49,397.15 274.18,395.62 272.92,394.02 271.71,392.35 270.56,390.62 269.46,388.82 268.42,386.96 267.43,385.04 266.5,383.05 265.62,381.01 264.8,378.9 264.05,376.74 263.35,374.52 262.7,372.25 262.12,369.93 261.6,367.55 261.14,365.13 260.74,362.65 260.4,360.13 260.13,357.57 259.91,354.97 259.76,352.32 259.66,349.63 259.63,346.91" fill="none" stroke="#ff0d0d" stroke-width="0.85" stroke-dasharray="2.2 1.6" stroke-opacity="0.22"/>
<path d="M349.8,193.17L347.5,191.89 345.19,190.69 342.89,189.55 340.6,188.49 338.31,187.5 336.03,186.58 333.76,185.74 331.5,184.97 329.25,184.28 327.02,183.67 324.8,183.13 322.6,182.67 320.42,182.28 318.26,181.98 316.12,181.75 314,181.6 311.91,181.53 309.84,181.53 307.8,181.61 305.79,181.78 303.81,182.02 301.86,182.33 299.94,182.73 298.06,183.2 296.22,183.75 294.41,184.37 292.63,185.07 290.9,185.85 289.21,186.7 287.56,187.63 285.95,188.63 284.39,189.7 282.87,190.85 281.39,192.06 279.97,193.35 278.59,194.71 277.26,196.14 275.98,197.63 274.75,199.2 273.57,200.82 272.45,202.52 271.37,204.27 270.35,206.09 269.39,207.97 268.48,209.91 267.62,211.91 266.83,213.97 266.09,216.08 265.4,218.25 264.78,220.47 264.21,222.74 263.7,225.06 263.25,227.43 262.86,229.84 262.53,232.3 262.26,234.8 262.05,237.35 261.9,239.93 261.81,242.56 261.78,245.21 261.81,247.91 261.9,250.63 262.05,253.39 262.26,256.17 262.53,258.99 262.86,261.82 263.25,264.68 263.7,267.56 264.21,270.47 264.78,273.38 265.4,276.31 266.09,279.26 266.83,282.22 267.62,285.18 268.48,288.15 269.39,291.13 270.35,294.11 271.37,297.09 272.45,300.07 273.57,303.05 274.75,306.02 275.98,308.99 277.26,311.94 278.59,314.89 279.97,317.82 281.39,320.73 282.87,323.63 284.39,326.51 285.95,329.36 287.56,332.2 289.21,335.01 290.9,337.79 292.63,340.54 294.41,343.26 296.22,345.95 298.06,348.6 299.94,351.22 301.86,353.8 303.81,356.34 305.79,358.84 307.8,361.29 309.84,363.7 311.91,366.06 314,368.38 316.12,370.64 318.26,372.85 320.42,375.01 322.6,377.12 324.8,379.16 327.02,381.15 329.25,383.09 331.5,384.96 333.76,386.77 336.03,388.52 338.31,390.2 340.6,391.82 342.89,393.37 345.19,394.86 347.5,396.28 349.8,397.63 352.1,398.91 354.41,400.11 356.71,401.25 359,402.31 361.29,403.3 363.57,404.22 365.84,405.06 368.1,405.83 370.35,406.52 372.58,407.13 374.8,407.67 377,408.13 379.18,408.52 381.34,408.82 383.48,409.05 385.6,409.2 387.69,409.27 389.76,409.27 391.8,409.19 393.81,409.02 395.79,408.78 397.74,408.47 399.66,408.07 401.54,407.6 403.38,407.05 405.19,406.43 406.97,405.73 408.7,404.95 410.39,404.1 412.04,403.17 413.65,402.17 415.21,401.1 416.73,399.95 418.21,398.74 419.63,397.45 421.01,396.09 422.34,394.66 423.62,393.17 424.85,391.6 426.03,389.98 427.15,388.28 428.23,386.53 429.25,384.71 430.21,382.83 431.12,380.89 431.98,378.89 432.77,376.83 433.51,374.72 434.2,372.55 434.82,370.33 435.39,368.06 435.9,365.74 436.35,363.37 436.74,360.96 437.07,358.5 437.34,356 437.55,353.45 437.7,350.87 437.79,348.24 437.82,345.59" fill="none" stroke="#ff0d0d" stroke-width="0.85" stroke-dasharray="2.2 1.6" stroke-opacity="0.22"/>
<path d="M437.82,345.59L440.15,344.22 442.42,342.82 444.62,341.39 446.76,339.93 448.84,338.43 450.84,336.91 452.78,335.36 454.65,333.78 456.44,332.17 458.16,330.54 459.81,328.89 461.38,327.21 462.87,325.51 464.29,323.79 465.63,322.05 466.89,320.3 468.07,318.52 469.16,316.73 470.18,314.93 471.11,313.11 471.96,311.28 472.73,309.44 473.41,307.58 474.01,305.72 474.52,303.86 474.95,301.99 475.29,300.11 475.55,298.23 475.72,296.35 475.8,294.46 475.8,292.58 475.71,290.7 475.53,288.82 475.27,286.95 474.92,285.09 474.49,283.23 473.97,281.37 473.36,279.53 472.67,277.7 471.9,275.88 471.04,274.08 470.1,272.29 469.08,270.51 467.97,268.76 466.79,267.02 465.52,265.3 464.18,263.6 462.76,261.92 461.25,260.26 459.68,258.63 458.02,257.03 456.3,255.45 454.5,253.9 452.63,252.37 450.69,250.88 448.67,249.42 446.6,247.99 444.45,246.59 442.24,245.22 439.97,243.89 437.63,242.59 435.24,241.33 432.78,240.11 430.27,238.93 427.71,237.78 425.09,236.67 422.42,235.61 419.7,234.58 416.93,233.6 414.11,232.66 411.26,231.76 408.35,230.9 405.41,230.09 402.43,229.33 399.42,228.61 396.37,227.93 393.29,227.3 390.18,226.72 387.04,226.19 383.88,225.7 380.69,225.26 377.48,224.87 374.25,224.52 371.01,224.23 367.75,223.98 364.48,223.79 361.2,223.64 357.91,223.54 354.62,223.49 351.32,223.49 348.02,223.54 344.72,223.64 341.43,223.79 338.14,223.98 334.86,224.23 331.59,224.52 328.33,224.86 325.09,225.26 321.86,225.7 318.66,226.18 315.47,226.72 312.31,227.3 309.17,227.93 306.06,228.6 302.98,229.32 299.94,230.09 296.93,230.9 293.95,231.75 291.01,232.65 288.11,233.59 285.26,234.58 282.45,235.6 279.68,236.67 276.97,237.77 274.3,238.92 271.69,240.1 269.12,241.33 266.62,242.59 264.17,243.88 261.78,245.21 259.45,246.58 257.18,247.98 254.98,249.41 252.84,250.87 250.76,252.37 248.76,253.89 246.82,255.44 244.95,257.02 243.16,258.63 241.44,260.26 239.79,261.91 238.22,263.59 236.73,265.29 235.31,267.01 233.97,268.75 232.71,270.5 231.53,272.28 230.44,274.07 229.42,275.87 228.49,277.69 227.64,279.52 226.87,281.36 226.19,283.22 225.59,285.08 225.08,286.94 224.65,288.81 224.31,290.69 224.05,292.57 223.88,294.45 223.8,296.34 223.8,298.22 223.89,300.1 224.07,301.98 224.33,303.85 224.68,305.71 225.11,307.57 225.63,309.43 226.24,311.27 226.93,313.1 227.7,314.92 228.56,316.72 229.5,318.51 230.52,320.29 231.63,322.04 232.81,323.78 234.08,325.5 235.42,327.2 236.84,328.88 238.35,330.54 239.92,332.17 241.58,333.77 243.3,335.35 245.1,336.9 246.97,338.43 248.91,339.92 250.93,341.38 253,342.81 255.15,344.21 257.36,345.58 259.63,346.91" fill="none" stroke="#ff0d0d" stroke-width="0.85" stroke-opacity="0.22"/>
<path d="M454.51,355.1L457.23,353.5 459.88,351.87 462.45,350.19 464.95,348.48 467.36,346.73 469.7,344.95 471.96,343.13 474.13,341.28 476.21,339.4 478.21,337.49 480.12,335.54 481.94,333.58 483.68,331.58 485.31,329.56 486.86,327.52 488.31,325.45 489.67,323.37 490.93,321.26 492.1,319.14 493.17,317 494.13,314.85 495,312.68 495.78,310.5 496.45,308.32 497.02,306.12 497.49,303.91 497.85,301.7 498.12,299.49 498.29,297.27 498.35,295.05 498.31,292.83 498.17,290.61 497.93,288.4 497.58,286.19 497.14,283.99 496.59,281.79 495.95,279.6 495.2,277.43 494.35,275.27 493.41,273.12 492.37,270.98 491.22,268.87 489.99,266.77 488.65,264.69 487.22,262.63 485.7,260.6 484.08,258.58 482.37,256.6 480.57,254.64 478.68,252.71 476.7,250.8 474.64,248.93 472.49,247.09 470.26,245.28 467.94,243.51 465.54,241.77 463.06,240.07 460.51,238.41 457.88,236.79 455.17,235.2 452.4,233.66 449.55,232.16 446.63,230.71 443.65,229.29 440.6,227.93 437.5,226.61 434.33,225.33 431.1,224.11 427.82,222.93 424.48,221.8 421.1,220.73 417.66,219.7 414.18,218.73 410.65,217.81 407.08,216.94 403.47,216.13 399.83,215.37 396.15,214.66 392.44,214.01 388.7,213.42 384.94,212.88 381.15,212.4 377.33,211.98 373.5,211.61 369.66,211.3 365.8,211.05 361.92,210.86 358.04,210.72 354.16,210.64 350.27,210.62 346.38,210.66 342.5,210.76 338.61,210.91 334.74,211.12 330.88,211.39 327.03,211.72 323.19,212.11 319.38,212.55 315.58,213.05 311.81,213.6 308.06,214.21 304.34,214.88 300.66,215.6 297,216.38 293.39,217.21 289.81,218.09 286.27,219.03 282.78,220.02 279.33,221.06 275.93,222.16 272.59,223.3 269.29,224.49 266.05,225.73 262.87,227.02 259.74,228.35 256.68,229.74 253.68,231.16 250.75,232.63 247.89,234.15 245.09,235.7 242.37,237.3 239.72,238.93 237.15,240.61 234.65,242.32 232.24,244.07 229.9,245.85 227.64,247.67 225.47,249.52 223.39,251.4 221.39,253.31 219.48,255.26 217.66,257.22 215.92,259.22 214.29,261.24 212.74,263.28 211.29,265.35 209.93,267.43 208.67,269.54 207.5,271.66 206.43,273.8 205.47,275.95 204.6,278.12 203.82,280.3 203.15,282.48 202.58,284.68 202.11,286.89 201.75,289.1 201.48,291.31 201.31,293.53 201.25,295.75 201.29,297.97 201.43,300.19 201.67,302.4 202.02,304.61 202.46,306.81 203.01,309.01 203.65,311.2 204.4,313.37 205.25,315.53 206.19,317.68 207.23,319.82 208.38,321.93 209.61,324.03 210.95,326.11 212.38,328.17 213.9,330.2 215.52,332.22 217.23,334.2 219.03,336.16 220.92,338.09 222.9,340 224.96,341.87 227.11,343.71 229.34,345.52 231.66,347.29 234.06,349.03 236.54,350.73 239.09,352.39 241.72,354.01 244.43,355.6" fill="none" stroke="#ff0d0d" stroke-width="0.85" stroke-dasharray="2.2 1.6" stroke-opacity="0.22"/>
<path d="M349.8,191.45L352.35,190.03 354.9,188.68 357.45,187.4 359.99,186.19 362.53,185.07 365.06,184.01 367.57,183.04 370.08,182.14 372.57,181.32 375.04,180.57 377.5,179.91 379.94,179.32 382.35,178.81 384.75,178.39 387.12,178.04 389.47,177.78 391.78,177.59 394.07,177.49 396.33,177.46 398.56,177.52 400.76,177.66 402.91,177.88 405.04,178.18 407.12,178.56 409.17,179.01 411.17,179.55 413.14,180.17 415.06,180.87 416.93,181.65 418.76,182.5 420.54,183.43 422.27,184.44 423.96,185.53 425.59,186.69 427.17,187.92 428.7,189.23 430.17,190.61 431.59,192.06 432.95,193.58 434.26,195.18 435.5,196.84 436.69,198.57 437.82,200.36 438.89,202.22 439.9,204.15 440.85,206.14 441.73,208.18 442.55,210.29 443.31,212.46 444,214.68 444.63,216.96 445.19,219.29 445.69,221.68 446.12,224.11 446.49,226.6 446.79,229.13 447.02,231.7 447.19,234.32 447.29,236.99 447.32,239.69 447.29,242.43 447.19,245.21 447.02,248.02 446.79,250.86 446.49,253.73 446.12,256.64 445.69,259.56 445.19,262.52 444.63,265.49 444,268.49 443.31,271.51 442.55,274.54 441.73,277.58 440.85,280.64 439.9,283.71 438.89,286.79 437.82,289.87 436.69,292.95 435.5,296.04 434.26,299.13 432.95,302.21 431.59,305.29 430.17,308.37 428.7,311.43 427.17,314.48 425.59,317.52 423.96,320.55 422.27,323.56 420.54,326.54 418.76,329.51 416.93,332.45 415.06,335.37 413.14,338.26 411.17,341.12 409.17,343.96 407.12,346.75 405.04,349.51 402.91,352.24 400.76,354.92 398.56,357.57 396.33,360.17 394.07,362.73 391.78,365.24 389.47,367.7 387.12,370.12 384.75,372.48 382.35,374.79 379.94,377.05 377.5,379.25 375.04,381.39 372.57,383.47 370.08,385.5 367.57,387.46 365.06,389.36 362.53,391.19 359.99,392.96 357.45,394.66 354.9,396.29 352.35,397.86 349.8,399.35 347.25,400.77 344.7,402.12 342.15,403.4 339.61,404.61 337.07,405.73 334.54,406.79 332.03,407.76 329.52,408.66 327.03,409.48 324.56,410.23 322.1,410.89 319.66,411.48 317.25,411.99 314.85,412.41 312.48,412.76 310.13,413.02 307.82,413.21 305.53,413.31 303.27,413.34 301.04,413.28 298.84,413.14 296.69,412.92 294.56,412.62 292.48,412.24 290.43,411.79 288.43,411.25 286.46,410.63 284.54,409.93 282.67,409.15 280.84,408.3 279.06,407.37 277.33,406.36 275.64,405.27 274.01,404.11 272.43,402.88 270.9,401.57 269.43,400.19 268.01,398.74 266.65,397.22 265.34,395.62 264.1,393.96 262.91,392.23 261.78,390.44 260.71,388.58 259.7,386.65 258.75,384.66 257.87,382.62 257.05,380.51 256.29,378.34 255.6,376.12 254.97,373.84 254.41,371.51 253.91,369.12 253.48,366.69 253.11,364.2 252.81,361.67 252.58,359.1 252.41,356.48 252.31,353.81 252.28,351.11" fill="none" stroke="#0d0dff" stroke-width="0.85" stroke-dasharray="2.2 1.6" stroke-opacity="0.22"/>
<path d="M349.8,191.45L347.3,190.06 344.81,188.75 342.32,187.5 339.83,186.33 337.35,185.24 334.88,184.22 332.42,183.28 329.97,182.41 327.54,181.63 325.12,180.92 322.71,180.29 320.33,179.73 317.96,179.26 315.62,178.87 313.3,178.55 311.01,178.32 308.74,178.16 306.5,178.09 304.29,178.1 302.11,178.19 299.97,178.35 297.86,178.6 295.78,178.93 293.74,179.34 291.74,179.83 289.78,180.39 287.86,181.04 285.98,181.76 284.15,182.56 282.36,183.44 280.62,184.4 278.92,185.43 277.28,186.54 275.68,187.72 274.13,188.98 272.64,190.31 271.2,191.71 269.81,193.18 268.48,194.72 267.2,196.33 265.98,198.01 264.82,199.76 263.72,201.57 262.67,203.44 261.69,205.38 260.76,207.38 259.9,209.44 259.09,211.56 258.35,213.74 257.68,215.97 257.06,218.26 256.51,220.6 256.02,222.99 255.6,225.43 255.24,227.92 254.95,230.45 254.72,233.03 254.56,235.66 254.46,238.32 254.43,241.02 254.46,243.76 254.56,246.54 254.72,249.35 254.95,252.19 255.24,255.06 255.6,257.95 256.02,260.88 256.51,263.82 257.06,266.79 257.68,269.78 258.35,272.78 259.09,275.81 259.9,278.84 260.76,281.89 261.69,284.94 262.67,288 263.72,291.07 264.82,294.14 265.98,297.21 267.2,300.28 268.48,303.35 269.81,306.41 271.2,309.46 272.64,312.51 274.13,315.54 275.68,318.56 277.28,321.56 278.92,324.55 280.62,327.51 282.36,330.45 284.15,333.37 285.98,336.26 287.86,339.13 289.78,341.96 291.74,344.77 293.74,347.54 295.78,350.27 297.86,352.96 299.97,355.62 302.11,358.24 304.29,360.81 306.5,363.33 308.74,365.81 311.01,368.25 313.3,370.63 315.62,372.96 317.96,375.24 320.33,377.46 322.71,379.63 325.12,381.74 327.54,383.78 329.97,385.77 332.42,387.7 334.88,389.56 337.35,391.36 339.83,393.1 342.32,394.76 344.81,396.36 347.3,397.89 349.8,399.35 352.3,400.74 354.79,402.05 357.28,403.3 359.77,404.47 362.25,405.56 364.72,406.58 367.18,407.52 369.63,408.39 372.06,409.17 374.48,409.88 376.89,410.51 379.27,411.07 381.64,411.54 383.98,411.93 386.3,412.25 388.59,412.48 390.86,412.64 393.1,412.71 395.31,412.7 397.49,412.61 399.63,412.45 401.74,412.2 403.82,411.87 405.86,411.46 407.86,410.97 409.82,410.41 411.74,409.76 413.62,409.04 415.45,408.24 417.24,407.36 418.98,406.4 420.68,405.37 422.32,404.26 423.92,403.08 425.47,401.82 426.96,400.49 428.4,399.09 429.79,397.62 431.12,396.08 432.4,394.47 433.62,392.79 434.78,391.04 435.88,389.23 436.93,387.36 437.91,385.42 438.84,383.42 439.7,381.36 440.51,379.24 441.25,377.06 441.92,374.83 442.54,372.54 443.09,370.2 443.58,367.81 444,365.37 444.36,362.88 444.65,360.35 444.88,357.77 445.04,355.14 445.14,352.48 445.17,349.78" fill="none" stroke="#0d0dff" stroke-width="0.85" stroke-dasharray="2.2 1.6" stroke-opacity="0.22"/>
<path d="M445.17,349.78L447.69,348.3 450.15,346.79 452.53,345.24 454.85,343.66 457.09,342.04 459.26,340.39 461.35,338.71 463.37,337.01 465.31,335.27 467.17,333.51 468.94,331.72 470.64,329.9 472.26,328.06 473.79,326.2 475.23,324.32 476.59,322.42 477.87,320.5 479.05,318.56 480.15,316.61 481.16,314.64 482.08,312.66 482.9,310.66 483.64,308.66 484.28,306.65 484.83,304.63 485.29,302.6 485.66,300.57 485.93,298.53 486.11,296.5 486.2,294.46 486.19,292.42 486.09,290.38 485.9,288.35 485.61,286.33 485.23,284.3 484.76,282.29 484.19,280.29 483.53,278.29 482.78,276.31 481.94,274.34 481.01,272.39 479.99,270.45 478.88,268.53 477.68,266.62 476.4,264.74 475.02,262.88 473.57,261.04 472.02,259.22 470.39,257.43 468.68,255.66 466.89,253.92 465.02,252.21 463.07,250.53 461.04,248.88 458.94,247.26 456.76,245.68 454.51,244.13 452.18,242.61 449.79,241.13 447.32,239.69 444.79,238.28 442.2,236.92 439.54,235.59 436.82,234.31 434.04,233.07 431.2,231.87 428.31,230.71 425.36,229.6 422.36,228.53 419.32,227.51 416.22,226.54 413.08,225.61 409.89,224.73 406.67,223.9 403.4,223.12 400.1,222.39 396.76,221.71 393.39,221.07 390,220.49 386.57,219.96 383.12,219.49 379.65,219.06 376.15,218.69 372.64,218.37 369.11,218.1 365.57,217.88 362.02,217.72 358.46,217.61 354.89,217.56 351.32,217.55 347.75,217.61 344.18,217.71 340.61,217.87 337.05,218.08 333.5,218.34 329.96,218.66 326.44,219.03 322.93,219.45 319.44,219.93 315.96,220.45 312.52,221.03 309.1,221.66 305.7,222.33 302.34,223.06 299.01,223.84 295.71,224.67 292.45,225.54 289.23,226.47 286.05,227.44 282.92,228.46 279.83,229.52 276.79,230.63 273.79,231.78 270.86,232.98 267.97,234.22 265.14,235.5 262.37,236.82 259.66,238.18 257.01,239.58 254.43,241.02 251.91,242.5 249.45,244.01 247.07,245.56 244.75,247.14 242.51,248.76 240.34,250.41 238.25,252.09 236.23,253.79 234.29,255.53 232.43,257.29 230.66,259.08 228.96,260.9 227.34,262.74 225.81,264.6 224.37,266.48 223.01,268.38 221.73,270.3 220.55,272.24 219.45,274.19 218.44,276.16 217.52,278.14 216.7,280.14 215.96,282.14 215.32,284.15 214.77,286.17 214.31,288.2 213.94,290.23 213.67,292.27 213.49,294.3 213.4,296.34 213.41,298.38 213.51,300.42 213.7,302.45 213.99,304.47 214.37,306.5 214.84,308.51 215.41,310.51 216.07,312.51 216.82,314.49 217.66,316.46 218.59,318.41 219.61,320.35 220.72,322.27 221.92,324.18 223.2,326.06 224.58,327.92 226.03,329.76 227.58,331.58 229.21,333.37 230.92,335.14 232.71,336.88 234.58,338.59 236.53,340.27 238.56,341.92 240.66,343.54 242.84,345.12 245.09,346.67 247.42,348.19 249.81,349.67 252.28,351.11" fill="none" stroke="#0d0dff" stroke-width="0.85" stroke-dasharray="2.2 1.6" stroke-opacity="0.22"/>
<path d="M301.21,368.78L301.25,373.16 301.37,377.4 301.56,381.52 301.83,385.5 302.17,389.34 302.59,393.04 303.08,396.57 303.64,399.95 304.28,403.16 304.98,406.19 305.76,409.06 306.61,411.74 307.52,414.24 308.5,416.56 309.54,418.68 310.64,420.61 311.8,422.34 313.03,423.88 314.3,425.21 315.63,426.35 317.01,427.28 318.45,428 319.92,428.53 321.45,428.85 323.01,428.96 324.62,428.87 326.26,428.58 327.93,428.08 329.64,427.38 331.38,426.48 333.15,425.38 334.93,424.09 336.75,422.6 338.58,420.92 340.42,419.06 342.28,417 344.15,414.76 346.03,412.35 347.91,409.75 349.8,406.99 351.69,404.05 353.57,400.96 355.45,397.7 357.32,394.29 359.18,390.72 361.02,387.02 362.85,383.17 364.67,379.18 366.45,375.07 368.22,370.84 369.96,366.49 371.67,362.02 373.34,357.46 374.98,352.79 376.59,348.04 378.15,343.19 379.68,338.28 381.15,333.29 382.59,328.24 383.97,323.13 385.3,317.98 386.57,312.79 387.8,307.57 388.96,302.32 390.06,297.06 391.1,291.79 392.08,286.52 392.99,281.27 393.84,276.03 394.62,270.82 395.32,265.64 395.96,260.51 396.52,255.43 397.01,250.41 397.43,245.46 397.77,240.58 398.04,235.79 398.23,231.1 398.35,226.5 398.39,222.02 398.35,217.64 398.23,213.4 398.04,209.28 397.77,205.3 397.43,201.46 397.01,197.76 396.52,194.23 395.96,190.85 395.32,187.64 394.62,184.61 393.84,181.74 392.99,179.06 392.08,176.56 391.1,174.24 390.06,172.12 388.96,170.19 387.8,168.46 386.57,166.92 385.3,165.59 383.97,164.45 382.59,163.52 381.15,162.8 379.68,162.27 378.15,161.95 376.59,161.84 374.98,161.93 373.34,162.22 371.67,162.72 369.96,163.42 368.22,164.32 366.45,165.42 364.67,166.71 362.85,168.2 361.02,169.88 359.18,171.74 357.32,173.8 355.45,176.04 353.57,178.45 351.69,181.05 349.8,183.81" fill="none" stroke="#00ee00" stroke-width="0.85" stroke-opacity="0.22"/>
<path d="M301.21,368.78L301.26,373.15 301.39,377.37 301.6,381.44 301.91,385.36 302.29,389.1 302.76,392.67 303.31,396.07 303.94,399.27 304.65,402.28 305.43,405.09 306.29,407.71 307.21,410.12 308.21,412.32 309.26,414.31 310.38,416.09 311.56,417.67 312.79,419.03 314.08,420.19 315.41,421.14 316.8,421.89 318.22,422.44 319.68,422.78 321.18,422.93 322.71,422.89 324.27,422.66 325.86,422.25 327.48,421.66 329.12,420.89 330.78,419.95 332.45,418.84 334.15,417.56 335.85,416.13 337.57,414.55 339.3,412.81 341.04,410.92 342.78,408.89 344.53,406.71 346.29,404.39 348.04,401.94 349.8,399.35 351.56,396.63 353.31,393.78 355.07,390.8 356.82,387.69 358.56,384.45 360.3,381.09 362.03,377.61 363.75,374 365.45,370.28 367.15,366.44 368.82,362.48 370.48,358.41 372.12,354.23 373.74,349.95 375.33,345.55 376.89,341.06 378.42,336.47 379.92,331.8 381.38,327.03 382.8,322.19 384.19,317.27 385.52,312.29 386.81,307.25 388.04,302.16 389.22,297.02 390.34,291.86 391.39,286.67 392.39,281.46 393.31,276.26 394.17,271.06 394.95,265.88 395.66,260.73 396.29,255.63 396.84,250.57 397.31,245.59 397.69,240.67 398,235.85 398.21,231.13 398.34,226.51 398.39,222.02 398.34,217.65 398.21,213.43 398,209.36 397.69,205.44 397.31,201.7 396.84,198.13 396.29,194.73 395.66,191.53 394.95,188.52 394.17,185.71 393.31,183.09 392.39,180.68 391.39,178.48 390.34,176.49 389.22,174.71 388.04,173.13 386.81,171.77 385.52,170.61 384.19,169.66 382.8,168.91 381.38,168.36 379.92,168.02 378.42,167.87 376.89,167.91 375.33,168.14 373.74,168.55 372.12,169.14 370.48,169.91 368.82,170.85 367.15,171.96 365.45,173.24 363.75,174.67 362.03,176.25 360.3,177.99 358.56,179.88 356.82,181.91 355.07,184.09 353.31,186.41 351.56,188.86 349.8,191.45" fill="none" stroke="#0d0dff" stroke-width="0.85" stroke-dasharray="2.2 1.6" stroke-opacity="0.22"/>
<path d="M233.39,361.9L236.46,363.6 239.6,365.26 242.82,366.86 246.12,368.42 249.48,369.93 252.91,371.39 256.41,372.8 259.97,374.15 263.6,375.45 267.28,376.69 271.02,377.88 274.81,379.01 278.66,380.08 282.55,381.1 286.49,382.06 290.48,382.96 294.5,383.79 298.56,384.57 302.66,385.29 306.79,385.94 310.95,386.54 315.13,387.07 319.34,387.53 323.57,387.94 327.82,388.28 332.08,388.56 336.36,388.77 340.64,388.92 344.93,389 349.23,389.02 353.52,388.98 357.81,388.87 362.1,388.7 366.38,388.47 370.64,388.17 374.9,387.81 379.13,387.38 383.35,386.89 387.54,386.34 391.71,385.73 395.84,385.05 399.95,384.31 404.02,383.51 408.05,382.66 412.05,381.74 416,380.76 419.91,379.72 423.77,378.63 427.57,377.48 431.33,376.27 435.03,375.01 438.67,373.69 442.25,372.32 445.76,370.9 449.21,369.42 452.59,367.9 455.91,366.32 459.14,364.7 462.31,363.02 465.39,361.31" fill="none" stroke="#00ee00" stroke-width="1.15" stroke-dasharray="3 2.6"/>
<path d="M244.43,355.6L247.2,357.14 250.05,358.64 252.97,360.09 255.95,361.51 259,362.87 262.1,364.19 265.27,365.47 268.5,366.69 271.78,367.87 275.12,369 278.5,370.07 281.94,371.1 285.42,372.07 288.95,372.99 292.52,373.86 296.13,374.67 299.77,375.43 303.45,376.14 307.16,376.79 310.9,377.38 314.66,377.92 318.45,378.4 322.27,378.82 326.1,379.19 329.94,379.5 333.8,379.75 337.68,379.94 341.56,380.08 345.44,380.16 349.33,380.18 353.22,380.14 357.1,380.04 360.99,379.89 364.86,379.68 368.72,379.41 372.57,379.08 376.41,378.69 380.22,378.25 384.02,377.75 387.79,377.2 391.54,376.59 395.26,375.92 398.94,375.2 402.6,374.42 406.21,373.59 409.79,372.71 413.33,371.77 416.82,370.78 420.27,369.74 423.67,368.64 427.01,367.5 430.31,366.31 433.55,365.07 436.73,363.78 439.86,362.45 442.92,361.06 445.92,359.64 448.85,358.17 451.71,356.65 454.51,355.1" fill="none" stroke="#ff0d0d" stroke-width="1.15" stroke-dasharray="3 2.6"/>
<path d="M252.28,351.11L254.81,352.52 257.4,353.88 260.06,355.21 262.78,356.49 265.56,357.73 268.4,358.93 271.29,360.09 274.24,361.2 277.24,362.27 280.28,363.29 283.38,364.26 286.52,365.19 289.71,366.07 292.93,366.9 296.2,367.68 299.5,368.41 302.84,369.09 306.21,369.73 309.6,370.31 313.03,370.84 316.48,371.31 319.95,371.74 323.45,372.11 326.96,372.43 330.49,372.7 334.03,372.92 337.58,373.08 341.14,373.19 344.71,373.24 348.28,373.25 351.85,373.19 355.42,373.09 358.99,372.93 362.55,372.72 366.1,372.46 369.64,372.14 373.16,371.77 376.67,371.35 380.16,370.87 383.64,370.35 387.08,369.77 390.5,369.14 393.9,368.47 397.26,367.74 400.59,366.96 403.89,366.13 407.15,365.26 410.37,364.33 413.55,363.36 416.68,362.34 419.77,361.28 422.81,360.17 425.81,359.02 428.74,357.82 431.63,356.58 434.46,355.3 437.23,353.98 439.94,352.62 442.59,351.22 445.17,349.78" fill="none" stroke="#00ee00" stroke-width="1.15"/>
<path d="M252.28,351.11L254.81,352.52 257.4,353.88 260.06,355.21 262.78,356.49 265.56,357.73 268.4,358.93 271.29,360.09 274.24,361.2 277.24,362.27 280.28,363.29 283.38,364.26 286.52,365.19 289.71,366.07 292.93,366.9 296.2,367.68 299.5,368.41 302.84,369.09 306.21,369.73 309.6,370.31 313.03,370.84 316.48,371.31 319.95,371.74 323.45,372.11 326.96,372.43 330.49,372.7 334.03,372.92 337.58,373.08 341.14,373.19 344.71,373.24 348.28,373.25 351.85,373.19 355.42,373.09 358.99,372.93 362.55,372.72 366.1,372.46 369.64,372.14 373.16,371.77 376.67,371.35 380.16,370.87 383.64,370.35 387.08,369.77 390.5,369.14 393.9,368.47 397.26,367.74 400.59,366.96 403.89,366.13 407.15,365.26 410.37,364.33 413.55,363.36 416.68,362.34 419.77,361.28 422.81,360.17 425.81,359.02 428.74,357.82 431.63,356.58 434.46,355.3 437.23,353.98 439.94,352.62 442.59,351.22 445.17,349.78" fill="none" stroke="#0d0dff" stroke-width="1.15" stroke-dasharray="3 2.6"/>
<path d="M259.63,346.91L261.97,348.21 264.36,349.47 266.82,350.69 269.33,351.87 271.89,353.02 274.51,354.13 277.18,355.19 279.9,356.22 282.67,357.2 285.49,358.14 288.34,359.04 291.25,359.9 294.19,360.71 297.17,361.47 300.18,362.19 303.23,362.87 306.31,363.5 309.42,364.08 312.56,364.61 315.72,365.1 318.91,365.54 322.12,365.93 325.35,366.28 328.59,366.57 331.85,366.82 335.12,367.01 338.4,367.16 341.69,367.26 344.98,367.31 348.28,367.31 351.58,367.26 354.88,367.16 358.17,367.01 361.46,366.82 364.74,366.57 368.01,366.28 371.27,365.94 374.51,365.54 377.74,365.1 380.94,364.62 384.13,364.08 387.29,363.5 390.43,362.87 393.54,362.2 396.62,361.48 399.66,360.71 402.67,359.9 405.65,359.05 408.59,358.15 411.49,357.21 414.34,356.22 417.15,355.2 419.92,354.13 422.63,353.03 425.3,351.88 427.91,350.7 430.48,349.47 432.98,348.21 435.43,346.92 437.82,345.59" fill="none" stroke="#ff0d0d" stroke-width="1.15"/>
<path d="M233.39,361.9L233.43,358.95 233.55,355.97 233.75,352.94 234.03,349.87 234.39,346.76 234.83,343.62 235.34,340.45 235.94,337.24 236.61,334.01 237.36,330.75 238.19,327.47 239.09,324.16 240.07,320.84 241.13,317.49 242.26,314.13 243.46,310.76 244.73,307.38 246.08,303.99 247.5,300.59 248.99,297.2 250.55,293.79 252.17,290.4 253.87,287 255.63,283.61 257.45,280.23 259.34,276.85 261.28,273.5 263.29,270.15 265.36,266.82 267.49,263.52 269.67,260.23 271.91,256.97 274.2,253.74 276.54,250.53 278.94,247.35 281.38,244.21 283.87,241.1 286.4,238.03 288.98,235 291.6,232.01 294.26,229.07 296.95,226.16 299.69,223.31 302.45,220.51 305.25,217.75 308.08,215.05 310.94,212.41 313.83,209.82 316.74,207.29 319.67,204.83 322.63,202.42 325.6,200.08 328.59,197.8 331.59,195.59 334.61,193.45 337.63,191.37 340.67,189.37 343.71,187.45 346.75,185.59 349.8,183.81" fill="none" stroke="#00ee00" stroke-width="1.15"/>
<path d="M465.39,361.31L465.35,358.36 465.24,355.38 465.04,352.35 464.76,349.28 464.41,346.18 463.97,343.04 463.46,339.87 462.87,336.67 462.2,333.44 461.46,330.18 460.63,326.9 459.74,323.6 458.76,320.28 457.72,316.94 456.6,313.59 455.4,310.22 454.13,306.85 452.8,303.46 451.39,300.08 449.91,296.68 448.36,293.29 446.75,289.9 445.06,286.51 443.32,283.13 441.51,279.76 439.63,276.39 437.7,273.05 435.7,269.71 433.65,266.4 431.54,263.1 429.37,259.82 427.15,256.57 424.87,253.35 422.55,250.16 420.17,246.99 417.74,243.86 415.27,240.77 412.76,237.71 410.2,234.69 407.6,231.72 404.96,228.78 402.28,225.9 399.56,223.06 396.82,220.27 394.04,217.53 391.23,214.84 388.39,212.21 385.52,209.64 382.63,207.13 379.72,204.67 376.79,202.28 373.83,199.95 370.87,197.69 367.88,195.5 364.89,193.37 361.88,191.31 358.87,189.33 355.85,187.41 352.83,185.58 349.8,183.81" fill="none" stroke="#00ee00" stroke-width="1.15"/>
<path d="M252.28,351.11L252.31,348.13 252.41,345.11 252.58,342.06 252.81,338.97 253.11,335.86 253.48,332.71 253.91,329.54 254.41,326.35 254.97,323.14 255.6,319.91 256.29,316.66 257.05,313.39 257.87,310.12 258.75,306.83 259.7,303.54 260.71,300.24 261.78,296.94 262.91,293.63 264.1,290.33 265.34,287.03 266.65,283.74 268.01,280.45 269.43,277.18 270.9,273.92 272.43,270.67 274.01,267.44 275.64,264.23 277.33,261.04 279.06,257.87 280.84,254.73 282.67,251.62 284.54,248.53 286.46,245.48 288.43,242.46 290.43,239.48 292.48,236.54 294.56,233.64 296.69,230.78 298.84,227.97 301.04,225.2 303.27,222.48 305.53,219.8 307.82,217.19 310.13,214.62 312.48,212.11 314.85,209.66 317.25,207.26 319.66,204.93 322.1,202.66 324.56,200.45 327.03,198.3 329.52,196.23 332.03,194.22 334.54,192.28 337.07,190.41 339.61,188.61 342.15,186.89 344.7,185.24 347.25,183.67 349.8,182.17" fill="none" stroke="#00ee00" stroke-width="1.15" stroke-dasharray="3 2.6"/>
<path d="M445.17,349.78L445.14,346.86 445.04,343.91 444.88,340.92 444.65,337.9 444.36,334.86 444,331.78 443.58,328.68 443.09,325.56 442.54,322.42 441.92,319.26 441.25,316.08 440.51,312.89 439.7,309.68 438.84,306.47 437.91,303.25 436.93,300.02 435.88,296.79 434.78,293.56 433.62,290.34 432.4,287.11 431.12,283.89 429.79,280.68 428.4,277.48 426.96,274.29 425.47,271.11 423.92,267.95 422.32,264.81 420.68,261.69 418.98,258.6 417.24,255.53 415.45,252.48 413.62,249.47 411.74,246.49 409.82,243.54 407.86,240.63 405.86,237.75 403.82,234.91 401.74,232.12 399.63,229.37 397.49,226.66 395.31,224 393.1,221.39 390.86,218.83 388.59,216.33 386.3,213.87 383.98,211.48 381.64,209.14 379.27,206.86 376.89,204.64 374.48,202.48 372.06,200.39 369.63,198.36 367.18,196.4 364.72,194.5 362.25,192.68 359.77,190.92 357.28,189.24 354.79,187.63 352.3,186.1 349.8,184.63" fill="none" stroke="#00ee00" stroke-width="1.15" stroke-dasharray="3 2.6"/>
<path d="M244.43,355.6L244.46,352.91 244.57,350.18 244.75,347.41 245,344.61 245.33,341.77 245.72,338.9 246.19,336 246.73,333.08 247.34,330.13 248.02,327.15 248.77,324.15 249.58,321.14 250.47,318.1 251.43,315.05 252.45,311.99 253.54,308.91 254.69,305.83 255.91,302.74 257.2,299.64 258.54,296.54 259.95,293.44 261.43,290.34 262.96,287.25 264.55,284.16 266.2,281.07 267.91,278 269.67,274.94 271.49,271.9 273.37,268.87 275.29,265.85 277.27,262.86 279.29,259.89 281.37,256.95 283.49,254.03 285.65,251.14 287.86,248.28 290.12,245.45 292.41,242.66 294.74,239.9 297.11,237.18 299.52,234.5 301.96,231.86 304.44,229.27 306.94,226.72 309.48,224.22 312.04,221.77 314.63,219.36 317.24,217.01 319.87,214.72 322.53,212.47 325.2,210.29 327.89,208.16 330.6,206.1 333.32,204.09 336.05,202.15 338.79,200.27 341.53,198.46 344.29,196.71 347.04,195.03 349.8,193.42" fill="none" stroke="#ff0d0d" stroke-width="1.15"/>
<path d="M454.51,355.1L454.47,352.41 454.36,349.68 454.18,346.91 453.93,344.11 453.61,341.28 453.22,338.41 452.75,335.51 452.22,332.59 451.61,329.64 450.94,326.67 450.19,323.68 449.38,320.66 448.5,317.63 447.55,314.59 446.54,311.53 445.45,308.46 444.31,305.38 443.09,302.29 441.82,299.2 440.48,296.11 439.08,293.02 437.61,289.93 436.09,286.84 434.51,283.75 432.87,280.68 431.17,277.62 429.42,274.56 427.61,271.53 425.75,268.51 423.84,265.5 421.88,262.52 419.86,259.56 417.8,256.62 415.69,253.72 413.54,250.84 411.35,247.99 409.11,245.17 406.83,242.39 404.51,239.64 402.15,236.93 399.76,234.26 397.34,231.64 394.88,229.05 392.39,226.52 389.87,224.03 387.32,221.59 384.75,219.2 382.16,216.86 379.54,214.57 376.9,212.35 374.24,210.17 371.57,208.06 368.88,206.01 366.18,204.01 363.47,202.08 360.74,200.22 358.02,198.42 355.28,196.68 352.54,195.02 349.8,193.42" fill="none" stroke="#ff0d0d" stroke-width="1.15"/>
<path d="M252.28,351.11L252.31,348.37 252.41,345.59 252.58,342.78 252.81,339.94 253.11,337.07 253.48,334.16 253.91,331.24 254.41,328.28 254.97,325.31 255.6,322.31 256.29,319.29 257.05,316.26 257.87,313.22 258.75,310.16 259.7,307.09 260.71,304.01 261.78,300.93 262.91,297.85 264.1,294.76 265.34,291.67 266.65,288.59 268.01,285.51 269.43,282.43 270.9,279.37 272.43,276.32 274.01,273.28 275.64,270.25 277.33,267.24 279.06,264.26 280.84,261.29 282.67,258.35 284.54,255.43 286.46,252.54 288.43,249.68 290.43,246.84 292.48,244.05 294.56,241.29 296.69,238.56 298.84,235.88 301.04,233.23 303.27,230.63 305.53,228.07 307.82,225.56 310.13,223.1 312.48,220.68 314.85,218.32 317.25,216.01 319.66,213.75 322.1,211.55 324.56,209.41 327.03,207.33 329.52,205.3 332.03,203.34 334.54,201.44 337.07,199.61 339.61,197.84 342.15,196.14 344.7,194.51 347.25,192.94 349.8,191.45" fill="none" stroke="#0d0dff" stroke-width="1.15" stroke-dasharray="3 2.6" stroke-dashoffset="2.8"/>
<path d="M445.17,349.78L445.14,347.04 445.04,344.26 444.88,341.45 444.65,338.61 444.36,335.74 444,332.85 443.58,329.92 443.09,326.98 442.54,324.01 441.92,321.02 441.25,318.02 440.51,314.99 439.7,311.96 438.84,308.91 437.91,305.86 436.93,302.8 435.88,299.73 434.78,296.66 433.62,293.59 432.4,290.52 431.12,287.45 429.79,284.39 428.4,281.34 426.96,278.29 425.47,275.26 423.92,272.24 422.32,269.24 420.68,266.25 418.98,263.29 417.24,260.35 415.45,257.43 413.62,254.54 411.74,251.67 409.82,248.84 407.86,246.03 405.86,243.26 403.82,240.53 401.74,237.84 399.63,235.18 397.49,232.56 395.31,229.99 393.1,227.47 390.86,224.99 388.59,222.55 386.3,220.17 383.98,217.84 381.64,215.56 379.27,213.34 376.89,211.17 374.48,209.06 372.06,207.02 369.63,205.03 367.18,203.1 364.72,201.24 362.25,199.44 359.77,197.7 357.28,196.04 354.79,194.44 352.3,192.91 349.8,191.45" fill="none" stroke="#0d0dff" stroke-width="1.15" stroke-dasharray="3 2.6" stroke-dashoffset="2.8"/>
<path d="M259.63,346.91L259.66,344.15 259.76,341.36 259.91,338.54 260.13,335.68 260.4,332.8 260.74,329.9 261.14,326.97 261.6,324.02 262.12,321.05 262.7,318.06 263.35,315.06 264.05,312.04 264.8,309.01 265.62,305.97 266.5,302.93 267.43,299.88 268.42,296.82 269.46,293.77 270.56,290.71 271.71,287.66 272.92,284.62 274.18,281.58 275.49,278.55 276.85,275.54 278.26,272.53 279.73,269.55 281.24,266.58 282.79,263.63 284.39,260.7 286.04,257.8 287.73,254.92 289.47,252.07 291.24,249.25 293.06,246.46 294.91,243.7 296.8,240.98 298.73,238.3 300.69,235.65 302.69,233.05 304.72,230.49 306.78,227.97 308.86,225.51 310.98,223.08 313.13,220.71 315.29,218.39 317.49,216.12 319.7,213.91 321.94,211.75 324.19,209.65 326.46,207.61 328.75,205.63 331.05,203.71 333.37,201.85 335.69,200.06 338.03,198.33 340.37,196.67 342.73,195.07 345.08,193.55 347.44,192.09 349.8,190.71" fill="none" stroke="#ff0d0d" stroke-width="1.15" stroke-dasharray="3 2.6"/>
<path d="M437.82,345.59L437.79,342.89 437.7,340.17 437.55,337.41 437.34,334.63 437.07,331.81 436.74,328.98 436.35,326.12 435.9,323.24 435.39,320.33 434.82,317.42 434.2,314.49 433.51,311.54 432.77,308.58 431.98,305.62 431.12,302.65 430.21,299.67 429.25,296.69 428.23,293.71 427.15,290.73 426.03,287.75 424.85,284.78 423.62,281.81 422.34,278.86 421.01,275.91 419.63,272.98 418.21,270.07 416.73,267.17 415.21,264.29 413.65,261.44 412.04,258.6 410.39,255.79 408.7,253.01 406.97,250.26 405.19,247.54 403.38,244.85 401.54,242.2 399.66,239.58 397.74,237 395.79,234.46 393.81,231.96 391.8,229.51 389.76,227.1 387.69,224.74 385.6,222.42 383.48,220.16 381.34,217.95 379.18,215.79 377,213.68 374.8,211.64 372.58,209.65 370.35,207.71 368.1,205.84 365.84,204.03 363.57,202.28 361.29,200.6 359,198.98 356.71,197.43 354.41,195.94 352.1,194.52 349.8,193.17" fill="none" stroke="#ff0d0d" stroke-width="1.15" stroke-dasharray="3 2.6"/>
<path d="M349.8,183.81L348.54,185.75 347.28,187.76 346.03,189.84 344.78,192 343.53,194.22 342.28,196.51 341.04,198.87 339.8,201.3 338.58,203.78 337.35,206.33 336.14,208.95 334.93,211.62 333.74,214.34 332.55,217.12 331.38,219.96 330.22,222.85 329.07,225.79 327.93,228.78 326.81,231.81 325.71,234.89 324.62,238.01 323.54,241.17 322.49,244.37 321.45,247.61 320.43,250.88 319.43,254.18 318.45,257.51 317.49,260.87 316.55,264.26 315.63,267.67 314.74,271.1 313.87,274.55 313.03,278.01 312.21,281.49 311.41,284.98 310.64,288.48 309.9,291.99 309.19,295.5 308.5,299.01 307.84,302.52 307.21,306.03 306.61,309.53 306.04,313.03 305.5,316.51 304.98,319.98 304.51,323.44 304.06,326.88 303.64,330.29 303.26,333.69 302.9,337.05 302.59,340.39 302.3,343.7 302.05,346.98 301.83,350.22 301.64,353.42 301.49,356.58 301.37,359.7 301.28,362.78 301.23,365.8 301.21,368.78" fill="none" stroke="#00ee00" stroke-width="1.15"/>
<path d="M349.8,191.45L348.63,193.25 347.46,195.11 346.29,197.02 345.12,199 343.95,201.03 342.78,203.11 341.62,205.26 340.46,207.46 339.3,209.71 338.15,212.02 337,214.38 335.85,216.8 334.71,219.26 333.58,221.79 332.45,224.36 331.33,226.99 330.22,229.66 329.12,232.39 328.02,235.16 326.94,237.98 325.86,240.85 324.8,243.77 323.75,246.73 322.71,249.74 321.69,252.79 320.68,255.87 319.68,259 318.7,262.17 317.74,265.37 316.8,268.61 315.87,271.88 314.96,275.18 314.08,278.51 313.22,281.87 312.38,285.24 311.56,288.64 310.77,292.06 310,295.5 309.26,298.94 308.55,302.4 307.87,305.87 307.21,309.34 306.59,312.81 305.99,316.28 305.43,319.74 304.9,323.2 304.4,326.64 303.94,330.07 303.51,333.48 303.12,336.86 302.76,340.23 302.44,343.56 302.15,346.86 301.91,350.13 301.7,353.35 301.52,356.54 301.39,359.67 301.29,362.76 301.23,365.8 301.21,368.78" fill="none" stroke="#0d0dff" stroke-width="1.15" stroke-dasharray="3 2.6"/>
<line x1="349.8" y1="295.4" x2="349.8" y2="167" stroke="#111" stroke-width="1.05"/>
<path d="M349.8,164.5L351.8,170L349.8,168.62L347.8,170Z" fill="#111"/>
<line x1="349.8" y1="295.4" x2="220.6" y2="368.1" stroke="#111" stroke-width="1.05"/>
<path d="M218.4,369.3L222.21,364.86L222,367.28L224.17,368.35Z" fill="#111"/>
<line x1="349.8" y1="295.4" x2="477.7" y2="367.9" stroke="#111" stroke-width="1.05"/>
<path d="M479.9,369.1L474.13,368.13L476.31,367.07L476.1,364.65Z" fill="#111"/>
<line x1="349.8" y1="295.4" x2="301.6" y2="368.3" stroke="#111" stroke-width="1.05"/>
<text x="358.5" y="172.5" text-anchor="middle" fill="#111" style='font-family:"Liberation Serif",serif;font-size:15px;font-style:italic' >z</text>
<text x="227.3" y="377.6" text-anchor="middle" fill="#111" style='font-family:"Liberation Serif",serif;font-size:15px;font-style:italic' >x</text>
<text x="474.5" y="380.5" text-anchor="middle" fill="#111" style='font-family:"Liberation Serif",serif;font-size:15px;font-style:italic' >y</text>
<text x="351.3" y="189.6" fill="#111" style='font-family:"Liberation Serif",serif;font-size:16.5px;font-style:italic'>n<tspan dy="3.2" style="font-size:11px">y</tspan></text>
<text x="351.3" y="209.6" fill="#111" style='font-family:"Liberation Serif",serif;font-size:16.5px;font-style:italic'>n<tspan dy="3.2" style="font-size:11px">x</tspan></text>
<text x="229.6" y="350.8" fill="#111" style='font-family:"Liberation Serif",serif;font-size:16.5px;font-style:italic'>n<tspan dy="3.2" style="font-size:11px">z</tspan></text>
<text x="263.8" y="333.8" fill="#111" style='font-family:"Liberation Serif",serif;font-size:16.5px;font-style:italic'>n<tspan dy="3.2" style="font-size:11px">y</tspan></text>
<text x="421.3" y="334.5" fill="#111" style='font-family:"Liberation Serif",serif;font-size:16.5px;font-style:italic'>n<tspan dy="3.2" style="font-size:11px">x</tspan></text>
<text x="457.3" y="352.5" fill="#111" style='font-family:"Liberation Serif",serif;font-size:16.5px;font-style:italic'>n<tspan dy="3.2" style="font-size:11px">z</tspan></text>
<path d="M339.3,275.5 C333,279 329.5,287 330.4,297" fill="none" stroke="#111" stroke-width="1"/>
<path d="M330.6,302.2L328.39,297.29L330.44,298.45L332.39,297.12Z" fill="#111"/>
<text x="331.0" y="292" fill="#111" style='font-family:"Liberation Serif",serif;font-size:16px;font-style:italic'>θ<tspan dy="2.8" style="font-size:11.5px">m</tspan></text>
<line x1="314.2" y1="322.2" x2="322" y2="324.8" stroke="#111" stroke-width="1"/>
<path d="M325.2,325.8L320.36,326.11L321.99,324.75L321.48,322.69Z" fill="#111"/>
<text x="322.0" y="320.6" fill="#111" style='font-family:"Liberation Serif",serif;font-size:17px;font-style:italic'>ϕ<tspan dy="3" style="font-size:11.5px">m</tspan></text>
<path d="M142.8,344.5Q175,380 229.5,381" fill="none" stroke="#111" stroke-width="1.35"/>
<path d="M142.8,344.5L149.09,347.57L146.08,348.11L145.24,351.06Z" fill="#111"/>
<path d="M244.5,370.2Q292,393.6 339.4,394.7" fill="none" stroke="#111" stroke-width="1.25"/>
<path d="M244.5,370.2L251.48,370.74L248.87,372.35L249.18,375.4Z" fill="#111"/>
<path d="M339.4,394.7L332.84,397.15L334.53,394.59L332.96,391.95Z" fill="#111"/>
<text x="343.5" y="398.5" text-anchor="start" fill="#111" style='font-family:"Liberation Serif",serif;font-size:17px;font-style:italic' >δϕ</text>
<path d="M288.3,325Q282,383 293.6,440.5" fill="none" stroke="#111" stroke-width="1.25"/>
<path d="M288.3,325L290.18,331.74L287.77,329.85L285.01,331.18Z" fill="#111"/>
<path d="M293.6,440.5L289.77,434.64L292.64,435.72L294.86,433.61Z" fill="#111"/>
<text x="294.5" y="427" text-anchor="start" fill="#111" style='font-family:"Liberation Serif",serif;font-size:17px;font-style:italic' >δθ</text>
<path d="M208.5,415.73L208.64,415.97 208.78,416.25 208.91,416.56 209.05,416.9 209.18,417.28 209.32,417.68 209.45,418.11 209.59,418.57 209.72,419.05 209.86,419.54 209.99,420.05 210.13,420.58 210.26,421.11 210.4,421.65 210.53,422.19 210.67,422.73 210.8,423.27 210.94,423.81 211.07,424.33 211.21,424.84 211.35,425.34 211.48,425.82 211.62,426.28 211.75,426.71 211.89,427.12 212.02,427.5 212.16,427.85 212.29,428.17 212.43,428.45 212.56,428.69 212.7,428.89 212.83,429.06 212.97,429.18 213.1,429.26 213.24,429.29 213.37,429.28 213.51,429.23 213.64,429.13 213.78,428.99 213.92,428.8 214.05,428.56 214.19,428.28 214.32,427.96 214.46,427.59 214.59,427.19 214.73,426.74 214.86,426.25 215,425.73 215.13,425.18 215.27,424.59 215.4,423.97 215.54,423.33 215.67,422.65 215.81,421.96 215.94,421.25 216.08,420.52 216.21,419.77 216.35,419.02 216.48,418.25 216.62,417.48 216.76,416.71 216.89,415.95 217.03,415.18 217.16,414.43 217.3,413.68 217.43,412.95 217.57,412.24 217.7,411.54 217.84,410.87 217.97,410.22 218.11,409.6 218.24,409.01 218.38,408.45 218.51,407.93 218.65,407.45 218.78,407 218.92,406.59 219.05,406.22 219.19,405.9 219.32,405.61 219.46,405.38 219.6,405.18 219.73,405.04 219.87,404.93 220,404.88 220.14,404.87 220.27,404.9 220.41,404.98 220.54,405.1 220.68,405.26 220.81,405.46 220.95,405.7 221.08,405.98 221.22,406.29 221.35,406.64 221.49,407.02 221.62,407.43 221.76,407.86 221.89,408.32 222.03,408.79 222.17,409.29 222.3,409.8 222.44,410.33 222.57,410.86 222.71,411.4 222.84,411.94 222.98,412.49 223.11,413.03 223.25,413.56 223.38,414.08 223.52,414.59 223.65,415.09 223.79,415.57 223.92,416.03 224.06,416.46 224.19,416.86 224.33,417.24 224.46,417.59 224.6,417.9 224.74,418.18 224.87,418.42 225.01,418.62 225.14,418.78 225.28,418.89 225.41,418.97 225.55,419 225.68,418.99 225.82,418.93 225.95,418.82 226.09,418.67 226.22,418.48 226.36,418.24 226.49,417.96 226.63,417.63 226.76,417.26 226.9,416.85 227.03,416.4 227.17,415.91 227.3,415.39 227.44,414.83 227.58,414.24 227.71,413.62 227.85,412.97 227.98,412.3 228.12,411.6 228.25,410.89 228.39,410.15 228.52,409.41 228.66,408.65 228.79,407.89 228.93,407.12 229.06,406.35 229.2,405.58 229.33,404.82 229.47,404.06 229.6,403.32 229.74,402.59 229.87,401.88 230.01,401.18 230.14,400.51 230.28,399.87 230.42,399.25 230.55,398.66 230.69,398.11 230.82,397.59 230.96,397.11 231.09,396.66 231.23,396.26 231.36,395.89 231.5,395.57 231.63,395.3 231.77,395.06 231.9,394.87 232.04,394.73 232.17,394.63 232.31,394.58 232.44,394.57 232.58,394.61 232.71,394.69 232.85,394.81 232.99,394.98 233.12,395.18 233.26,395.43 233.39,395.71 233.53,396.03 233.66,396.38 233.8,396.76 233.93,397.17 234.07,397.6 234.2,398.06 234.34,398.54 234.47,399.04 234.61,399.56 234.74,400.08 234.88,400.61 235.01,401.15 235.15,401.7 235.28,402.24 235.42,402.78 235.56,403.31 235.69,403.84 235.83,404.35 235.96,404.84 236.1,405.32 236.23,405.77 236.37,406.2 236.5,406.6 236.64,406.98 236.77,407.32 236.91,407.63 237.04,407.9 237.18,408.14 237.31,408.34 237.45,408.49 237.58,408.61 237.72,408.68 237.85,408.7 237.99,408.69 238.12,408.62 238.26,408.52 238.4,408.36 238.53,408.16 238.67,407.92 238.8,407.63 238.94,407.3 239.07,406.93 239.21,406.52 239.34,406.06 239.48,405.57 239.61,405.04 239.75,404.48 239.88,403.89 240.02,403.26 240.15,402.61 240.29,401.94 240.42,401.24 240.56,400.52 240.69,399.79 240.83,399.04 240.96,398.29 241.1,397.52 241.24,396.75 241.37,395.98 241.51,395.22 241.64,394.45 241.78,393.7 241.91,392.96 242.05,392.23 242.18,391.52 242.32,390.83 242.45,390.16 242.59,389.52 242.72,388.9 242.86,388.32 242.99,387.77 243.13,387.25 243.26,386.77 243.4,386.33 243.53,385.93 243.67,385.57 243.81,385.25 243.94,384.98 244.08,384.75 244.21,384.56 244.35,384.42 244.48,384.33 244.62,384.28 244.75,384.28 244.89,384.32 245.02,384.4 245.16,384.53 245.29,384.7 245.43,384.91 245.56,385.16 245.7,385.44 245.83,385.76 245.97,386.12 246.1,386.5 246.24,386.91 246.38,387.35 246.51,387.81 246.65,388.29 246.78,388.79 246.92,389.31 247.05,389.83 247.19,390.37 247.32,390.91 247.46,391.45 247.59,391.99 247.73,392.53 247.86,393.06 248,393.59 248.13,394.1 248.27,394.59 248.4,395.06 248.54,395.51 248.67,395.94 248.81,396.34 248.94,396.72 249.08,397.06" fill="none" stroke="#1a1a1a" stroke-width="1.05"/>
<line x1="205.8" y1="426.2" x2="256.83" y2="383.47" stroke="#111" stroke-width="1.3"/>
<path d="M259.9,380.9L256.59,387.07L256.16,384.03L253.25,383.08Z" fill="#111"/>
<path d="M246.86,435.94L247.68,436.01 248.52,436.09 249.37,436.17 250.23,436.25 251.1,436.33 251.97,436.42 252.84,436.5 253.7,436.58 254.55,436.67 255.4,436.74 256.23,436.82 257.05,436.89 257.84,436.95 258.61,437.01 259.36,437.06 260.07,437.11 260.76,437.14 261.41,437.17 262.03,437.19 262.61,437.19 263.14,437.19 263.64,437.17 264.09,437.15 264.5,437.11 264.86,437.06 265.17,436.99 265.43,436.91 265.64,436.82 265.81,436.72 265.92,436.6 265.98,436.47 266,436.32 265.96,436.17 265.87,435.99 265.74,435.81 265.55,435.61 265.32,435.4 265.05,435.18 264.73,434.95 264.37,434.7 263.96,434.45 263.53,434.18 263.05,433.9 262.54,433.62 262,433.33 261.43,433.03 260.83,432.72 260.22,432.4 259.58,432.08 258.92,431.76 258.26,431.43 257.58,431.1 256.89,430.77 256.2,430.44 255.51,430.1 254.82,429.77 254.13,429.44 253.46,429.11 252.79,428.78 252.14,428.46 251.51,428.14 250.91,427.83 250.32,427.53 249.76,427.23 249.23,426.94 248.74,426.66 248.28,426.39 247.85,426.12 247.46,425.87 247.12,425.63 246.82,425.4 246.56,425.18 246.35,424.98 246.18,424.79 246.07,424.61 246,424.44 245.98,424.29 246.02,424.15 246.1,424.02 246.23,423.91 246.42,423.81 246.65,423.73 246.93,423.65 247.26,423.59 247.64,423.55 248.07,423.51 248.53,423.49 249.05,423.48 249.6,423.48 250.19,423.49 250.83,423.51 251.49,423.54 252.19,423.58 252.92,423.63 253.67,423.68 254.46,423.74 255.26,423.81 256.08,423.88 256.92,423.96 257.77,424.04 258.63,424.12 259.49,424.21 260.36,424.29 261.23,424.37 262.09,424.46 262.95,424.54 263.8,424.62 264.63,424.69 265.45,424.77 266.25,424.83 267.02,424.89 267.78,424.94 268.5,424.99 269.19,425.03 269.85,425.06 270.47,425.08 271.06,425.08 271.61,425.08 272.11,425.07 272.57,425.05 272.99,425.01 273.36,424.96 273.68,424.9 273.95,424.82 274.18,424.73 274.35,424.63 274.48,424.52 274.55,424.39 274.57,424.25 274.55,424.09 274.47,423.92 274.35,423.74 274.17,423.55 273.95,423.34 273.69,423.12 273.38,422.89 273.02,422.65 272.63,422.39 272.2,422.13 271.73,421.85 271.23,421.57 270.69,421.28 270.13,420.98 269.54,420.67 268.93,420.36 268.29,420.04 267.64,419.72 266.97,419.39 266.3,419.06 265.61,418.73 264.92,418.4 264.23,418.07 263.54,417.73 262.85,417.4 262.18,417.07 261.51,416.74 260.86,416.42 260.22,416.1 259.61,415.79 259.02,415.48 258.45,415.18 257.92,414.89 257.42,414.61 256.95,414.33 256.51,414.07 256.12,413.82 255.77,413.57 255.45,413.34 255.19,413.12 254.97,412.91 254.79,412.72 254.66,412.54 254.59,412.37 254.56,412.21 254.58,412.07 254.65,411.94 254.77,411.83 254.95,411.72 255.17,411.64 255.44,411.56 255.76,411.5 256.13,411.45 256.55,411.41 257.01,411.39 257.51,411.37 258.06,411.37 258.64,411.38 259.26,411.4 259.92,411.43 260.61,411.46 261.34,411.51 262.09,411.56 262.86,411.62 263.66,411.69 264.48,411.76 265.31,411.83 266.16,411.91 267.02,412 267.88,412.08 268.75,412.16 269.62,412.25 270.48,412.33 271.34,412.41 272.19,412.49 273.03,412.57 273.85,412.64 274.66,412.71 275.44,412.77 276.19,412.83 276.92,412.87 277.62,412.91 278.29,412.94 278.92,412.96 279.52,412.98 280.07,412.98 280.58,412.97 281.05,412.94 281.48,412.91 281.86,412.86 282.19,412.8 282.48,412.73 282.71,412.65 282.9,412.55 283.03,412.44 283.12,412.31 283.15,412.17 283.13,412.02 283.07,411.85 282.95,411.67 282.79,411.48 282.58,411.28 282.32,411.06 282.02,410.83 281.68,410.59 281.29,410.34 280.87,410.08 280.41,409.81 279.91,409.52 279.38,409.23 278.83,408.94 278.24,408.63 277.63,408.32 277,408 276.36,407.68 275.69,407.36 275.02,407.03 274.33,406.7 273.64,406.36 272.95,406.03 272.26,405.69 271.57,405.36 270.9,405.03 270.23,404.7 269.57,404.38 268.93,404.06 268.31,403.75 267.72,403.44 267.15,403.14 266.61,402.84 266.1,402.56 265.62,402.28 265.18,402.02 264.78,401.76 264.41,401.52 264.09,401.28 263.82,401.06 263.58,400.85 263.4,400.65 263.26,400.47 263.17,400.29 263.14,400.14 263.15,399.99 263.21,399.86 263.32,399.74 263.48,399.64 263.69,399.54 263.96,399.47 264.27,399.4 264.63,399.35 265.03,399.31 265.48,399.28 265.98,399.27 266.51,399.26 267.09,399.27 267.7,399.29 268.35,399.31 269.04,399.35 269.76,399.39 270.5,399.44 271.27,399.5 272.07,399.57 272.88,399.64 273.71,399.71 274.55,399.79 275.41,399.87 276.27,399.95 277.14,400.04 278.01,400.12 278.87,400.21 279.74,400.29" fill="none" stroke="#1a1a1a" stroke-width="1.05"/>
<line x1="251.2" y1="437.1" x2="282.39" y2="393.06" stroke="#111" stroke-width="1.3"/>
<path d="M284.7,389.8L283.06,396.61L281.88,393.78L278.82,393.6Z" fill="#111"/>
<text x="165" y="410.5" text-anchor="start" fill="#3a3a3a" style='font-family:"Liberation Sans",sans-serif;font-size:10.3px' textLength="38.4" lengthAdjust="spacingAndGlyphs">ordinary</text>
<text x="173.1" y="421.9" text-anchor="start" fill="#3a3a3a" style='font-family:"Liberation Sans",sans-serif;font-size:10.3px' textLength="25.7" lengthAdjust="spacingAndGlyphs">beam</text>
<text x="201.8" y="438.8" text-anchor="start" fill="#3a3a3a" style='font-family:"Liberation Sans",sans-serif;font-size:10.3px' textLength="42.3" lengthAdjust="spacingAndGlyphs">extraord.</text>
<text x="210.6" y="450.2" text-anchor="start" fill="#3a3a3a" style='font-family:"Liberation Sans",sans-serif;font-size:10.3px' textLength="25.6" lengthAdjust="spacingAndGlyphs">beam</text>
<line x1="76" y1="489.2" x2="642" y2="489.2" stroke="#555" stroke-width="1.5"/>
<path d="M636.6,484.6L642.6,489.2L636.6,493.8" fill="none" stroke="#555" stroke-width="1.4"/>
<line x1="67.4" y1="489.3" x2="67.4" y2="463" stroke="#222" stroke-width="1"/>
<path d="M67.4,459.7L69.3,464.2L67.4,463.07L65.5,464.2Z" fill="#222"/>
<line x1="67.4" y1="489.3" x2="44.5" y2="486.2" stroke="#222" stroke-width="1"/>
<path d="M41,485.6L45.72,484.34L44.34,486.07L45.19,488.11Z" fill="#222"/>
<line x1="67.4" y1="489.3" x2="52.8" y2="497.7" stroke="#222" stroke-width="1"/>
<path d="M50.1,499.3L52.71,495.83L52.7,497.8L54.41,498.77Z" fill="#222"/>
<text x="60.6" y="463.2" text-anchor="middle" fill="#222" style='font-family:"Liberation Serif",serif;font-size:14.5px;font-style:italic' >z</text>
<text x="44.3" y="482.8" text-anchor="middle" fill="#222" style='font-family:"Liberation Serif",serif;font-size:14.5px;font-style:italic' >x</text>
<text x="59.8" y="507.6" text-anchor="middle" fill="#222" style='font-family:"Liberation Serif",serif;font-size:14.5px;font-style:italic' >y</text>
<line x1="80.9" y1="462.3" x2="160" y2="462.3" stroke="#c51f1f" stroke-width="1.5"/>
<line x1="80.9" y1="515.4" x2="160" y2="515.4" stroke="#c51f1f" stroke-width="1.5"/>
<line x1="164" y1="462.3" x2="252" y2="462.3" stroke="#c51f1f" stroke-width="1.5"/>
<line x1="164.7" y1="461.6" x2="252" y2="455" stroke="#c51f1f" stroke-width="1.3" stroke-dasharray="3.5 2"/>
<line x1="200" y1="515.6" x2="252" y2="515.6" stroke="#c51f1f" stroke-width="1.5"/>
<line x1="164.7" y1="515.0" x2="252" y2="506.0" stroke="#c51f1f" stroke-width="1.3" stroke-dasharray="3.5 2"/>
<line x1="252.4" y1="462.3" x2="389.5" y2="503.0" stroke="#c51f1f" stroke-width="1.5"/>
<line x1="252.4" y1="515.6" x2="389.5" y2="476.0" stroke="#c51f1f" stroke-width="1.5"/>
<line x1="252.4" y1="455.3" x2="389.5" y2="497.4" stroke="#c51f1f" stroke-width="1.3" stroke-dasharray="3.5 2"/>
<line x1="252.4" y1="506.4" x2="389.5" y2="467.5" stroke="#c51f1f" stroke-width="1.3" stroke-dasharray="3.5 2"/>
<line x1="389.5" y1="476" x2="430" y2="476" stroke="#c51f1f" stroke-width="1.5"/>
<line x1="389.5" y1="502.9" x2="430" y2="502.9" stroke="#c51f1f" stroke-width="1.5"/>
<line x1="389.5" y1="467.5" x2="430" y2="474.8" stroke="#c51f1f" stroke-width="1.3" stroke-dasharray="3.5 2"/>
<line x1="389.5" y1="497.3" x2="430" y2="502.6" stroke="#c51f1f" stroke-width="1.3" stroke-dasharray="3.5 2"/>
<line x1="439" y1="476" x2="462" y2="476" stroke="#c51f1f" stroke-width="1.5"/>
<line x1="439" y1="503" x2="462" y2="503" stroke="#c51f1f" stroke-width="1.5"/>
<line x1="439.8" y1="476" x2="462" y2="481" stroke="#c51f1f" stroke-width="1.3" stroke-dasharray="3.2 1.8"/>
<line x1="439.8" y1="503" x2="462" y2="508.5" stroke="#c51f1f" stroke-width="1.3" stroke-dasharray="3.2 1.8"/>
<line x1="439.8" y1="475.6" x2="528.1" y2="485.3" stroke="#70ad47" stroke-width="1.5"/>
<line x1="439.8" y1="502.6" x2="528.1" y2="512.5" stroke="#70ad47" stroke-width="1.5"/>
<line x1="528.1" y1="485.3" x2="616" y2="501.6" stroke="#70ad47" stroke-width="1.5"/>
<line x1="528.1" y1="512.5" x2="616" y2="501.6" stroke="#70ad47" stroke-width="1.5"/>
<rect x="109.1" y="452.9" width="10.2" height="72.5" fill="#afabab"/>
<rect x="153" y="452.1" width="11.7" height="74" fill="#595959"/>
<ellipse cx="252.4" cy="489" rx="7.2" ry="39.9" fill="#b4c7e7"/>
<ellipse cx="389.5" cy="491" rx="6.6" ry="33.3" fill="#b4c7e7"/>
<ellipse cx="528.1" cy="489" rx="6.9" ry="33.1" fill="#b4c7e7"/>
<rect x="429.1" y="452.1" width="10.7" height="73" fill="#dbe6f4"/>
<rect x="461.8" y="452" width="4.3" height="73" fill="#a9d18e"/>
<path d="M173.4,493 L205.2,479.2 L208.8,481.4 L208.8,513.5 L177,528.6 L173.4,526.4 Z" fill="#3a3a3a"/>
<path d="M176.4,495.4 L208.8,481.4 L208.8,513.5 L176.4,528 Z" fill="#4e4e4e"/>
<path d="M180.2,494.6 L211.6,481.6 L215,483.8 L215,518.2 L183.8,532.4 L180.2,530.2 Z" fill="#3c3c3c"/>
<path d="M183.6,497 L215,483.8 L215,518.2 L183.6,532.4 Z" fill="#585858"/>
<path d="M189.2,501.2 L212.6,490.6 L212.6,515.4 L189.2,527.4 Z" fill="#fafafa" stroke="#9fdbe8" stroke-width="1.1"/>
<path d="M189.7,502.77L212.1,492.09M189.7,504.87L212.1,494.07M189.7,506.96L212.1,496.06M189.7,509.06L212.1,498.04M189.7,511.16L212.1,500.02M189.7,513.25L212.1,502.01M189.7,515.35L212.1,503.99M189.7,517.44L212.1,505.98M189.7,519.54L212.1,507.96M189.7,521.64L212.1,509.94M189.7,523.73L212.1,511.93M189.7,525.83L212.1,513.91" stroke="#5a5a5a" stroke-width="0.85" fill="none"/>
<path d="M193.6,481.6 L198.6,479.2 L201,480.4 L196,482.8 Z" fill="#c55a11"/>
<path d="M172.8,493.6 L177.8,491.4 L180,492.6 L175,494.8 Z" fill="#c55a11"/>
<rect x="172.4" y="494.8" width="2.8" height="4.8" fill="#1e1e1e"/>
<rect x="172.4" y="519.2" width="2.8" height="5.2" fill="#1e1e1e"/>
<line x1="616" y1="463" x2="616" y2="511" stroke="#333" stroke-width="1.3" stroke-dasharray="3.2 2.2"/>
<line x1="621.6" y1="491.5" x2="621.6" y2="499.5" stroke="#111" stroke-width="0.9"/>
<path d="M619.9,492.3L621.6,489.3L623.3,492.3Z M619.9,498.7L621.6,501.7L623.3,498.7Z" fill="#111"/>
<text x="623.3" y="505.5" text-anchor="start" fill="#222" style='font-family:"Liberation Serif",serif;font-size:15px;font-style:italic' >δθ</text>
<text x="115.6" y="446.2" text-anchor="middle" fill="#222" style='font-family:"Liberation Serif",serif;font-size:12px' ><tspan style="font-style:italic">λ</tspan>/2</text>
<text x="158.3" y="445.3" text-anchor="middle" fill="#222" style='font-family:"Liberation Sans",sans-serif;font-size:10.3px' textLength="20" lengthAdjust="spacingAndGlyphs">SLM</text>
<text x="434.4" y="446.2" text-anchor="middle" fill="#222" style='font-family:"Liberation Sans",sans-serif;font-size:10.3px' textLength="17.6" lengthAdjust="spacingAndGlyphs">KTP</text>
<text x="465.6" y="535.8" text-anchor="middle" fill="#222" style='font-family:"Liberation Sans",sans-serif;font-size:10.8px' textLength="22.2" lengthAdjust="spacingAndGlyphs">filter</text>
</svg></body></html>
